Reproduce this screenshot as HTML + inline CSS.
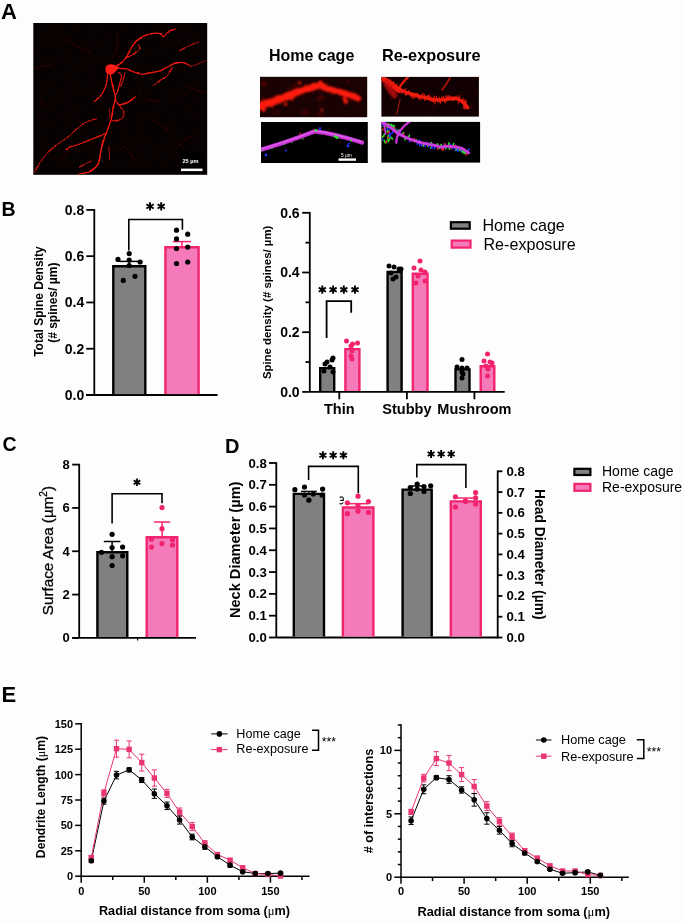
<!DOCTYPE html>
<html><head><meta charset="utf-8"><style>
html,body{margin:0;padding:0;background:#fdfdfd;}
body{width:685px;height:923px;overflow:hidden;}
svg{display:block;font-family:"Liberation Sans", sans-serif;will-change:transform;}
text{-webkit-font-smoothing:antialiased;}
</style></head><body>
<svg width="685" height="923" viewBox="0 0 685 923">
<rect width="685" height="923" fill="#fdfdfd"/>
<text x="1.00" y="18.60" font-size="22" font-weight="bold" text-anchor="start" fill="#000" >A</text>
<text x="1.50" y="215.90" font-size="19.5" font-weight="bold" text-anchor="start" fill="#000" >B</text>
<text x="2.50" y="451.30" font-size="19.5" font-weight="bold" text-anchor="start" fill="#000" >C</text>
<text x="225.00" y="452.50" font-size="20" font-weight="bold" text-anchor="start" fill="#000" >D</text>
<text x="1.60" y="701.90" font-size="22" font-weight="bold" text-anchor="start" fill="#000" >E</text>
<line x1="94.30" y1="209.10" x2="94.30" y2="395.00" stroke="#000" stroke-width="1.8" stroke-linecap="butt"/>
<line x1="86.00" y1="395.00" x2="217.60" y2="395.00" stroke="#000" stroke-width="1.8" stroke-linecap="butt"/>
<line x1="86.30" y1="395.00" x2="94.30" y2="395.00" stroke="#000" stroke-width="1.8" stroke-linecap="butt"/>
<text x="84.20" y="399.90" font-size="14" font-weight="bold" text-anchor="end" fill="#000" >0.0</text>
<line x1="86.30" y1="348.73" x2="94.30" y2="348.73" stroke="#000" stroke-width="1.8" stroke-linecap="butt"/>
<text x="84.20" y="353.62" font-size="14" font-weight="bold" text-anchor="end" fill="#000" >0.2</text>
<line x1="86.30" y1="302.45" x2="94.30" y2="302.45" stroke="#000" stroke-width="1.8" stroke-linecap="butt"/>
<text x="84.20" y="307.35" font-size="14" font-weight="bold" text-anchor="end" fill="#000" >0.4</text>
<line x1="86.30" y1="256.18" x2="94.30" y2="256.18" stroke="#000" stroke-width="1.8" stroke-linecap="butt"/>
<text x="84.20" y="261.07" font-size="14" font-weight="bold" text-anchor="end" fill="#000" >0.6</text>
<line x1="86.30" y1="209.90" x2="94.30" y2="209.90" stroke="#000" stroke-width="1.8" stroke-linecap="butt"/>
<text x="84.20" y="214.80" font-size="14" font-weight="bold" text-anchor="end" fill="#000" >0.8</text>
<text transform="translate(43.20,301.60) rotate(-90)" font-size="12" font-weight="bold" text-anchor="middle" fill="#000" >Total Spine Density</text>
<text transform="translate(56.60,302.70) rotate(-90)" font-size="12" font-weight="bold" text-anchor="middle" fill="#000" >(# spines/ µm)</text>
<rect x="113.30" y="266.30" width="32.00" height="127.80" fill="#808080"/>
<path d="M113.30,394.10 V266.30 H145.30 V394.10" fill="none" stroke="#000" stroke-width="2.4"/>
<rect x="165.40" y="247.30" width="33.20" height="146.80" fill="#f57aba"/>
<path d="M165.40,394.10 V247.30 H198.60 V394.10" fill="none" stroke="#f2246f" stroke-width="2.4"/>
<line x1="129.30" y1="266.00" x2="129.30" y2="261.40" stroke="#000" stroke-width="1.5" stroke-linecap="butt"/>
<line x1="119.60" y1="261.40" x2="139.00" y2="261.40" stroke="#000" stroke-width="1.5" stroke-linecap="butt"/>
<line x1="181.90" y1="247.00" x2="181.90" y2="241.60" stroke="#f2246f" stroke-width="1.5" stroke-linecap="butt"/>
<line x1="172.90" y1="241.60" x2="190.90" y2="241.60" stroke="#f2246f" stroke-width="1.5" stroke-linecap="butt"/>
<circle cx="118.00" cy="259.40" r="2.6" fill="#000"/>
<circle cx="129.20" cy="253.70" r="2.6" fill="#000"/>
<circle cx="129.20" cy="260.00" r="2.6" fill="#000"/>
<circle cx="140.10" cy="262.00" r="2.6" fill="#000"/>
<circle cx="129.20" cy="265.50" r="2.6" fill="#000"/>
<circle cx="123.30" cy="280.40" r="2.6" fill="#000"/>
<circle cx="135.00" cy="276.30" r="2.6" fill="#000"/>
<circle cx="176.50" cy="230.20" r="2.6" fill="#000"/>
<circle cx="187.70" cy="234.20" r="2.6" fill="#000"/>
<circle cx="176.50" cy="238.90" r="2.6" fill="#000"/>
<circle cx="176.50" cy="248.50" r="2.6" fill="#000"/>
<circle cx="187.70" cy="247.10" r="2.6" fill="#000"/>
<circle cx="176.50" cy="263.50" r="2.6" fill="#000"/>
<circle cx="187.70" cy="262.00" r="2.6" fill="#000"/>
<polyline points="128.80,250.50 128.80,219.50 182.40,219.50 182.40,229.70" fill="none" stroke="#000" stroke-width="1.6" stroke-linejoin="miter"/>
<path d="M150.00,202.20 L150.00,210.60 M146.36,204.30 L153.64,208.50 M146.36,208.50 L153.64,204.30" stroke="#000" stroke-width="1.9" fill="none"/>
<path d="M161.20,202.20 L161.20,210.60 M157.56,204.30 L164.84,208.50 M157.56,208.50 L164.84,204.30" stroke="#000" stroke-width="1.9" fill="none"/>
<line x1="309.80" y1="212.00" x2="309.80" y2="391.90" stroke="#000" stroke-width="1.8" stroke-linecap="butt"/>
<line x1="309.80" y1="391.90" x2="504.70" y2="391.90" stroke="#000" stroke-width="1.8" stroke-linecap="butt"/>
<line x1="302.20" y1="391.90" x2="309.80" y2="391.90" stroke="#000" stroke-width="1.8" stroke-linecap="butt"/>
<text x="299.60" y="396.70" font-size="14" font-weight="bold" text-anchor="end" fill="#000" >0.0</text>
<line x1="305.50" y1="362.05" x2="309.80" y2="362.05" stroke="#000" stroke-width="1.8" stroke-linecap="butt"/>
<line x1="302.20" y1="332.20" x2="309.80" y2="332.20" stroke="#000" stroke-width="1.8" stroke-linecap="butt"/>
<text x="299.60" y="337.00" font-size="14" font-weight="bold" text-anchor="end" fill="#000" >0.2</text>
<line x1="305.50" y1="302.35" x2="309.80" y2="302.35" stroke="#000" stroke-width="1.8" stroke-linecap="butt"/>
<line x1="302.20" y1="272.50" x2="309.80" y2="272.50" stroke="#000" stroke-width="1.8" stroke-linecap="butt"/>
<text x="299.60" y="277.30" font-size="14" font-weight="bold" text-anchor="end" fill="#000" >0.4</text>
<line x1="305.50" y1="242.65" x2="309.80" y2="242.65" stroke="#000" stroke-width="1.8" stroke-linecap="butt"/>
<line x1="302.20" y1="212.80" x2="309.80" y2="212.80" stroke="#000" stroke-width="1.8" stroke-linecap="butt"/>
<text x="299.60" y="217.60" font-size="14" font-weight="bold" text-anchor="end" fill="#000" >0.6</text>
<text transform="translate(271.00,302.40) rotate(-90)" font-size="11.4" font-weight="bold" text-anchor="middle" fill="#000" >Spine density (# spines/ µm)</text>
<line x1="339.30" y1="391.90" x2="339.30" y2="399.30" stroke="#000" stroke-width="1.8" stroke-linecap="butt"/>
<text x="339.30" y="413.60" font-size="14.5" font-weight="bold" text-anchor="middle" fill="#000" >Thin</text>
<line x1="406.90" y1="391.90" x2="406.90" y2="399.30" stroke="#000" stroke-width="1.8" stroke-linecap="butt"/>
<text x="406.90" y="413.60" font-size="14.5" font-weight="bold" text-anchor="middle" fill="#000" >Stubby</text>
<line x1="474.40" y1="391.90" x2="474.40" y2="399.30" stroke="#000" stroke-width="1.8" stroke-linecap="butt"/>
<text x="474.40" y="413.60" font-size="14.5" font-weight="bold" text-anchor="middle" fill="#000" >Mushroom</text>
<rect x="320.20" y="368.10" width="14.00" height="22.90" fill="#808080"/>
<path d="M320.20,391.00 V368.10 H334.20 V391.00" fill="none" stroke="#000" stroke-width="2.4"/>
<rect x="345.40" y="349.10" width="14.00" height="41.90" fill="#f57aba"/>
<path d="M345.40,391.00 V349.10 H359.40 V391.00" fill="none" stroke="#f2246f" stroke-width="2.4"/>
<rect x="387.60" y="272.00" width="14.00" height="119.00" fill="#808080"/>
<path d="M387.60,391.00 V272.00 H401.60 V391.00" fill="none" stroke="#000" stroke-width="2.4"/>
<rect x="412.80" y="273.80" width="14.70" height="117.20" fill="#f57aba"/>
<path d="M412.80,391.00 V273.80 H427.50 V391.00" fill="none" stroke="#f2246f" stroke-width="2.4"/>
<rect x="455.50" y="369.40" width="14.00" height="21.60" fill="#808080"/>
<path d="M455.50,391.00 V369.40 H469.50 V391.00" fill="none" stroke="#000" stroke-width="2.4"/>
<rect x="480.70" y="366.20" width="13.60" height="24.80" fill="#f57aba"/>
<path d="M480.70,391.00 V366.20 H494.30 V391.00" fill="none" stroke="#f2246f" stroke-width="2.4"/>
<circle cx="327.00" cy="362.00" r="2.5" fill="#000"/>
<circle cx="332.00" cy="360.00" r="2.5" fill="#000"/>
<circle cx="333.00" cy="358.00" r="2.5" fill="#000"/>
<circle cx="325.00" cy="364.00" r="2.5" fill="#000"/>
<circle cx="330.00" cy="367.00" r="2.5" fill="#000"/>
<circle cx="324.00" cy="371.00" r="2.5" fill="#000"/>
<circle cx="333.00" cy="372.00" r="2.5" fill="#000"/>
<circle cx="346.50" cy="341.00" r="2.5" fill="#f2246f"/>
<circle cx="352.50" cy="344.00" r="2.5" fill="#f2246f"/>
<circle cx="357.50" cy="343.00" r="2.5" fill="#f2246f"/>
<circle cx="351.00" cy="346.00" r="2.5" fill="#f2246f"/>
<circle cx="352.00" cy="351.00" r="2.5" fill="#f2246f"/>
<circle cx="351.00" cy="356.00" r="2.5" fill="#f2246f"/>
<circle cx="352.00" cy="359.00" r="2.5" fill="#f2246f"/>
<circle cx="389.00" cy="266.00" r="2.5" fill="#000"/>
<circle cx="394.00" cy="267.00" r="2.5" fill="#000"/>
<circle cx="399.00" cy="269.00" r="2.5" fill="#000"/>
<circle cx="401.00" cy="269.00" r="2.5" fill="#000"/>
<circle cx="391.00" cy="273.00" r="2.5" fill="#000"/>
<circle cx="396.00" cy="277.00" r="2.5" fill="#000"/>
<circle cx="393.00" cy="279.00" r="2.5" fill="#000"/>
<circle cx="420.00" cy="261.00" r="2.5" fill="#f2246f"/>
<circle cx="414.00" cy="268.00" r="2.5" fill="#f2246f"/>
<circle cx="421.00" cy="270.00" r="2.5" fill="#f2246f"/>
<circle cx="425.00" cy="272.00" r="2.5" fill="#f2246f"/>
<circle cx="418.00" cy="276.00" r="2.5" fill="#f2246f"/>
<circle cx="416.00" cy="283.00" r="2.5" fill="#f2246f"/>
<circle cx="425.00" cy="281.00" r="2.5" fill="#f2246f"/>
<circle cx="462.00" cy="359.50" r="2.5" fill="#000"/>
<circle cx="457.00" cy="367.00" r="2.5" fill="#000"/>
<circle cx="462.00" cy="368.00" r="2.5" fill="#000"/>
<circle cx="467.00" cy="368.00" r="2.5" fill="#000"/>
<circle cx="462.00" cy="372.00" r="2.5" fill="#000"/>
<circle cx="463.00" cy="374.00" r="2.5" fill="#000"/>
<circle cx="462.00" cy="378.00" r="2.5" fill="#000"/>
<circle cx="487.50" cy="354.00" r="2.5" fill="#f2246f"/>
<circle cx="484.00" cy="361.00" r="2.5" fill="#f2246f"/>
<circle cx="490.00" cy="362.00" r="2.5" fill="#f2246f"/>
<circle cx="492.00" cy="363.00" r="2.5" fill="#f2246f"/>
<circle cx="486.00" cy="366.00" r="2.5" fill="#f2246f"/>
<circle cx="488.00" cy="369.00" r="2.5" fill="#f2246f"/>
<circle cx="487.50" cy="376.00" r="2.5" fill="#f2246f"/>
<polyline points="326.60,338.00 326.60,301.20 351.20,301.20 351.20,312.80" fill="none" stroke="#000" stroke-width="1.8" stroke-linejoin="miter"/>
<path d="M322.30,285.60 L322.30,293.80 M318.75,287.65 L325.85,291.75 M318.75,291.75 L325.85,287.65" stroke="#000" stroke-width="1.9" fill="none"/>
<path d="M333.10,285.60 L333.10,293.80 M329.55,287.65 L336.65,291.75 M329.55,291.75 L336.65,287.65" stroke="#000" stroke-width="1.9" fill="none"/>
<path d="M343.80,285.60 L343.80,293.80 M340.25,287.65 L347.35,291.75 M340.25,291.75 L347.35,287.65" stroke="#000" stroke-width="1.9" fill="none"/>
<path d="M355.00,285.60 L355.00,293.80 M351.45,287.65 L358.55,291.75 M351.45,291.75 L358.55,287.65" stroke="#000" stroke-width="1.9" fill="none"/>
<rect x="450.9" y="222.2" width="18.8" height="6.5" fill="#808080" stroke="#000" stroke-width="2.2"/>
<rect x="451.7" y="240.6" width="18.8" height="7" fill="#f57aba" stroke="#f2246f" stroke-width="2.2"/>
<text x="482.50" y="231.00" font-size="16.1" font-weight="normal" text-anchor="start" fill="#000" >Home cage</text>
<text x="483.50" y="249.80" font-size="16.1" font-weight="normal" text-anchor="start" fill="#000" >Re-exposure</text>
<line x1="79.20" y1="463.80" x2="79.20" y2="637.90" stroke="#000" stroke-width="1.8" stroke-linecap="butt"/>
<line x1="72.20" y1="637.90" x2="196.00" y2="637.90" stroke="#000" stroke-width="1.8" stroke-linecap="butt"/>
<line x1="72.20" y1="637.90" x2="79.20" y2="637.90" stroke="#000" stroke-width="1.8" stroke-linecap="butt"/>
<text x="69.80" y="642.40" font-size="13" font-weight="bold" text-anchor="end" fill="#000" >0</text>
<line x1="72.20" y1="594.58" x2="79.20" y2="594.58" stroke="#000" stroke-width="1.8" stroke-linecap="butt"/>
<text x="69.80" y="599.08" font-size="13" font-weight="bold" text-anchor="end" fill="#000" >2</text>
<line x1="72.20" y1="551.25" x2="79.20" y2="551.25" stroke="#000" stroke-width="1.8" stroke-linecap="butt"/>
<text x="69.80" y="555.75" font-size="13" font-weight="bold" text-anchor="end" fill="#000" >4</text>
<line x1="72.20" y1="507.93" x2="79.20" y2="507.93" stroke="#000" stroke-width="1.8" stroke-linecap="butt"/>
<text x="69.80" y="512.42" font-size="13" font-weight="bold" text-anchor="end" fill="#000" >6</text>
<line x1="72.20" y1="464.60" x2="79.20" y2="464.60" stroke="#000" stroke-width="1.8" stroke-linecap="butt"/>
<text x="69.80" y="469.10" font-size="13" font-weight="bold" text-anchor="end" fill="#000" >8</text>
<line x1="137.60" y1="637.90" x2="137.60" y2="640.40" stroke="#000" stroke-width="1.2" stroke-linecap="butt"/>
<text transform="translate(53.2,550.6) rotate(-90)" font-size="15.2" text-anchor="middle" fill="#000" stroke="#000" stroke-width="0.3">Surface Area (µm<tspan font-size="10" dy="-6">2</tspan><tspan dy="6">)</tspan></text>
<rect x="97.40" y="552.30" width="29.90" height="84.70" fill="#808080"/>
<path d="M97.40,637.00 V552.30 H127.30 V637.00" fill="none" stroke="#000" stroke-width="2.4"/>
<rect x="146.70" y="537.20" width="30.60" height="99.80" fill="#f57aba"/>
<path d="M146.70,637.00 V537.20 H177.30 V637.00" fill="none" stroke="#f2246f" stroke-width="2.4"/>
<line x1="112.10" y1="552.00" x2="112.10" y2="541.50" stroke="#000" stroke-width="1.5" stroke-linecap="butt"/>
<line x1="103.80" y1="541.50" x2="120.40" y2="541.50" stroke="#000" stroke-width="1.5" stroke-linecap="butt"/>
<line x1="162.10" y1="537.00" x2="162.10" y2="522.00" stroke="#f2246f" stroke-width="1.5" stroke-linecap="butt"/>
<line x1="154.00" y1="522.00" x2="170.20" y2="522.00" stroke="#f2246f" stroke-width="1.5" stroke-linecap="butt"/>
<circle cx="112.10" cy="534.30" r="2.6" fill="#000"/>
<circle cx="101.50" cy="552.30" r="2.6" fill="#000"/>
<circle cx="112.10" cy="547.60" r="2.6" fill="#000"/>
<circle cx="122.60" cy="547.10" r="2.6" fill="#000"/>
<circle cx="112.10" cy="556.70" r="2.6" fill="#000"/>
<circle cx="122.60" cy="555.80" r="2.6" fill="#000"/>
<circle cx="112.10" cy="565.50" r="2.6" fill="#000"/>
<circle cx="162.00" cy="507.70" r="2.6" fill="#f2246f"/>
<circle cx="162.00" cy="528.70" r="2.6" fill="#f2246f"/>
<circle cx="151.50" cy="539.20" r="2.6" fill="#f2246f"/>
<circle cx="172.50" cy="539.70" r="2.6" fill="#f2246f"/>
<circle cx="162.00" cy="543.60" r="2.6" fill="#f2246f"/>
<circle cx="151.50" cy="547.10" r="2.6" fill="#f2246f"/>
<circle cx="172.50" cy="545.00" r="2.6" fill="#f2246f"/>
<polyline points="112.10,523.40 112.10,493.70 162.00,493.70 162.00,503.30" fill="none" stroke="#000" stroke-width="1.6" stroke-linejoin="miter"/>
<path d="M137.00,478.50 L137.00,486.10 M133.71,480.40 L140.29,484.20 M133.71,484.20 L140.29,480.40" stroke="#000" stroke-width="1.8" fill="none"/>
<line x1="276.30" y1="462.20" x2="276.30" y2="637.50" stroke="#000" stroke-width="1.8" stroke-linecap="butt"/>
<line x1="276.30" y1="637.50" x2="497.70" y2="637.50" stroke="#000" stroke-width="1.8" stroke-linecap="butt"/>
<line x1="269.00" y1="637.50" x2="276.30" y2="637.50" stroke="#000" stroke-width="1.8" stroke-linecap="butt"/>
<text x="266.80" y="642.00" font-size="13.2" font-weight="bold" text-anchor="end" fill="#000" >0.0</text>
<line x1="269.00" y1="615.69" x2="276.30" y2="615.69" stroke="#000" stroke-width="1.8" stroke-linecap="butt"/>
<text x="266.80" y="620.19" font-size="13.2" font-weight="bold" text-anchor="end" fill="#000" >0.1</text>
<line x1="269.00" y1="593.88" x2="276.30" y2="593.88" stroke="#000" stroke-width="1.8" stroke-linecap="butt"/>
<text x="266.80" y="598.38" font-size="13.2" font-weight="bold" text-anchor="end" fill="#000" >0.2</text>
<line x1="269.00" y1="572.06" x2="276.30" y2="572.06" stroke="#000" stroke-width="1.8" stroke-linecap="butt"/>
<text x="266.80" y="576.56" font-size="13.2" font-weight="bold" text-anchor="end" fill="#000" >0.3</text>
<line x1="269.00" y1="550.25" x2="276.30" y2="550.25" stroke="#000" stroke-width="1.8" stroke-linecap="butt"/>
<text x="266.80" y="554.75" font-size="13.2" font-weight="bold" text-anchor="end" fill="#000" >0.4</text>
<line x1="269.00" y1="528.44" x2="276.30" y2="528.44" stroke="#000" stroke-width="1.8" stroke-linecap="butt"/>
<text x="266.80" y="532.94" font-size="13.2" font-weight="bold" text-anchor="end" fill="#000" >0.5</text>
<line x1="269.00" y1="506.62" x2="276.30" y2="506.62" stroke="#000" stroke-width="1.8" stroke-linecap="butt"/>
<text x="266.80" y="511.12" font-size="13.2" font-weight="bold" text-anchor="end" fill="#000" >0.6</text>
<line x1="269.00" y1="484.81" x2="276.30" y2="484.81" stroke="#000" stroke-width="1.8" stroke-linecap="butt"/>
<text x="266.80" y="489.31" font-size="13.2" font-weight="bold" text-anchor="end" fill="#000" >0.7</text>
<line x1="269.00" y1="463.00" x2="276.30" y2="463.00" stroke="#000" stroke-width="1.8" stroke-linecap="butt"/>
<text x="266.80" y="467.50" font-size="13.2" font-weight="bold" text-anchor="end" fill="#000" >0.8</text>
<line x1="497.70" y1="470.50" x2="497.70" y2="638.40" stroke="#000" stroke-width="1.8" stroke-linecap="butt"/>
<line x1="497.70" y1="637.50" x2="502.40" y2="637.50" stroke="#000" stroke-width="1.8" stroke-linecap="butt"/>
<text x="506.40" y="642.00" font-size="13.2" font-weight="bold" text-anchor="start" fill="#000" >0.0</text>
<line x1="497.70" y1="616.73" x2="502.40" y2="616.73" stroke="#000" stroke-width="1.8" stroke-linecap="butt"/>
<text x="506.40" y="621.23" font-size="13.2" font-weight="bold" text-anchor="start" fill="#000" >0.1</text>
<line x1="497.70" y1="595.95" x2="502.40" y2="595.95" stroke="#000" stroke-width="1.8" stroke-linecap="butt"/>
<text x="506.40" y="600.45" font-size="13.2" font-weight="bold" text-anchor="start" fill="#000" >0.2</text>
<line x1="497.70" y1="575.17" x2="502.40" y2="575.17" stroke="#000" stroke-width="1.8" stroke-linecap="butt"/>
<text x="506.40" y="579.67" font-size="13.2" font-weight="bold" text-anchor="start" fill="#000" >0.3</text>
<line x1="497.70" y1="554.40" x2="502.40" y2="554.40" stroke="#000" stroke-width="1.8" stroke-linecap="butt"/>
<text x="506.40" y="558.90" font-size="13.2" font-weight="bold" text-anchor="start" fill="#000" >0.4</text>
<line x1="497.70" y1="533.62" x2="502.40" y2="533.62" stroke="#000" stroke-width="1.8" stroke-linecap="butt"/>
<text x="506.40" y="538.12" font-size="13.2" font-weight="bold" text-anchor="start" fill="#000" >0.5</text>
<line x1="497.70" y1="512.85" x2="502.40" y2="512.85" stroke="#000" stroke-width="1.8" stroke-linecap="butt"/>
<text x="506.40" y="517.35" font-size="13.2" font-weight="bold" text-anchor="start" fill="#000" >0.6</text>
<line x1="497.70" y1="492.08" x2="502.40" y2="492.08" stroke="#000" stroke-width="1.8" stroke-linecap="butt"/>
<text x="506.40" y="496.58" font-size="13.2" font-weight="bold" text-anchor="start" fill="#000" >0.7</text>
<line x1="497.70" y1="471.30" x2="502.40" y2="471.30" stroke="#000" stroke-width="1.8" stroke-linecap="butt"/>
<text x="506.40" y="475.80" font-size="13.2" font-weight="bold" text-anchor="start" fill="#000" >0.8</text>
<text transform="translate(240.00,549.80) rotate(-90)" font-size="14.6" font-weight="bold" text-anchor="middle" fill="#000" >Neck Diameter (µm)</text>
<text transform="translate(535.30,554.30) rotate(90)" font-size="13.9" font-weight="bold" text-anchor="middle" fill="#000" >Head Diameter (µm)</text>
<rect x="293.80" y="493.90" width="30.20" height="142.70" fill="#808080"/>
<path d="M293.80,636.60 V493.90 H324.00 V636.60" fill="none" stroke="#000" stroke-width="2.4"/>
<rect x="342.90" y="507.50" width="30.50" height="129.10" fill="#f57aba"/>
<path d="M342.90,636.60 V507.50 H373.40 V636.60" fill="none" stroke="#f2246f" stroke-width="2.4"/>
<rect x="402.60" y="489.60" width="29.10" height="147.00" fill="#808080"/>
<path d="M402.60,636.60 V489.60 H431.70 V636.60" fill="none" stroke="#000" stroke-width="2.4"/>
<rect x="450.80" y="501.40" width="30.00" height="135.20" fill="#f57aba"/>
<path d="M450.80,636.60 V501.40 H480.80 V636.60" fill="none" stroke="#f2246f" stroke-width="2.4"/>
<line x1="308.90" y1="494.00" x2="308.90" y2="491.40" stroke="#000" stroke-width="1.5" stroke-linecap="butt"/>
<line x1="301.00" y1="491.40" x2="316.80" y2="491.40" stroke="#000" stroke-width="1.5" stroke-linecap="butt"/>
<line x1="358.00" y1="507.00" x2="358.00" y2="503.70" stroke="#f2246f" stroke-width="1.5" stroke-linecap="butt"/>
<line x1="347.50" y1="503.70" x2="368.50" y2="503.70" stroke="#f2246f" stroke-width="1.5" stroke-linecap="butt"/>
<line x1="417.10" y1="490.00" x2="417.10" y2="486.00" stroke="#000" stroke-width="1.5" stroke-linecap="butt"/>
<line x1="411.10" y1="486.00" x2="423.10" y2="486.00" stroke="#000" stroke-width="1.5" stroke-linecap="butt"/>
<line x1="465.80" y1="502.00" x2="465.80" y2="498.00" stroke="#f2246f" stroke-width="1.5" stroke-linecap="butt"/>
<line x1="456.80" y1="498.00" x2="474.80" y2="498.00" stroke="#f2246f" stroke-width="1.5" stroke-linecap="butt"/>
<circle cx="294.90" cy="489.70" r="2.6" fill="#000"/>
<circle cx="304.50" cy="487.00" r="2.6" fill="#000"/>
<circle cx="322.60" cy="489.10" r="2.6" fill="#000"/>
<circle cx="304.50" cy="495.00" r="2.6" fill="#000"/>
<circle cx="313.30" cy="494.00" r="2.6" fill="#000"/>
<circle cx="322.00" cy="495.00" r="2.6" fill="#000"/>
<circle cx="308.90" cy="500.20" r="2.6" fill="#000"/>
<circle cx="358.00" cy="496.20" r="2.6" fill="#f2246f"/>
<circle cx="347.40" cy="502.80" r="2.6" fill="#f2246f"/>
<circle cx="368.50" cy="501.60" r="2.6" fill="#f2246f"/>
<circle cx="358.00" cy="505.40" r="2.6" fill="#f2246f"/>
<circle cx="358.00" cy="511.20" r="2.6" fill="#f2246f"/>
<circle cx="347.40" cy="513.70" r="2.6" fill="#f2246f"/>
<circle cx="368.50" cy="512.40" r="2.6" fill="#f2246f"/>
<circle cx="410.30" cy="487.50" r="2.6" fill="#000"/>
<circle cx="417.20" cy="484.00" r="2.6" fill="#000"/>
<circle cx="424.00" cy="486.50" r="2.6" fill="#000"/>
<circle cx="430.70" cy="485.80" r="2.6" fill="#000"/>
<circle cx="417.20" cy="489.00" r="2.6" fill="#000"/>
<circle cx="424.00" cy="491.50" r="2.6" fill="#000"/>
<circle cx="410.30" cy="493.50" r="2.6" fill="#000"/>
<circle cx="455.40" cy="496.80" r="2.6" fill="#f2246f"/>
<circle cx="475.60" cy="492.60" r="2.6" fill="#f2246f"/>
<circle cx="475.60" cy="497.80" r="2.6" fill="#f2246f"/>
<circle cx="465.50" cy="501.20" r="2.6" fill="#f2246f"/>
<circle cx="475.60" cy="504.00" r="2.6" fill="#f2246f"/>
<circle cx="455.40" cy="507.00" r="2.6" fill="#f2246f"/>
<circle cx="465.50" cy="501.00" r="2.6" fill="#f2246f"/>
<polyline points="308.60,480.00 308.60,466.40 358.30,466.40 358.30,493.20" fill="none" stroke="#000" stroke-width="1.6" stroke-linejoin="miter"/>
<polyline points="416.80,477.40 416.80,464.60 465.90,464.60 465.90,487.90" fill="none" stroke="#000" stroke-width="1.6" stroke-linejoin="miter"/>
<path d="M322.90,451.30 L322.90,459.30 M319.44,453.30 L326.36,457.30 M319.44,457.30 L326.36,453.30" stroke="#000" stroke-width="1.9" fill="none"/>
<path d="M333.15,451.30 L333.15,459.30 M329.69,453.30 L336.61,457.30 M329.69,457.30 L336.61,453.30" stroke="#000" stroke-width="1.9" fill="none"/>
<path d="M343.40,451.30 L343.40,459.30 M339.94,453.30 L346.86,457.30 M339.94,457.30 L346.86,453.30" stroke="#000" stroke-width="1.9" fill="none"/>
<path d="M431.10,450.00 L431.10,458.00 M427.64,452.00 L434.56,456.00 M427.64,456.00 L434.56,452.00" stroke="#000" stroke-width="1.9" fill="none"/>
<path d="M441.15,450.00 L441.15,458.00 M437.69,452.00 L444.61,456.00 M437.69,456.00 L444.61,452.00" stroke="#000" stroke-width="1.9" fill="none"/>
<path d="M451.20,450.00 L451.20,458.00 M447.74,452.00 L454.66,456.00 M447.74,456.00 L454.66,452.00" stroke="#000" stroke-width="1.9" fill="none"/>
<path d="M339.6,497.6 C341.2,496.4 343.6,496.8 343.4,499.3 L343.3,500.3 L340.2,500.3 M343.2,502.4 C342.6,503.9 340.9,504.3 339.5,503.6" fill="none" stroke="#111" stroke-width="1.15"/>
<rect x="574.4" y="468.8" width="16" height="6.2" fill="#808080" stroke="#000" stroke-width="2.2"/>
<rect x="574.4" y="483.9" width="16" height="6.9" fill="#f57aba" stroke="#f2246f" stroke-width="2.2"/>
<text x="602.00" y="476.40" font-size="14.0" font-weight="normal" text-anchor="start" fill="#000" >Home cage</text>
<text x="602.00" y="492.00" font-size="14.0" font-weight="normal" text-anchor="start" fill="#000" >Re-exposure</text>
<line x1="81.20" y1="723.10" x2="81.20" y2="876.20" stroke="#000" stroke-width="1.5" stroke-linecap="butt"/>
<line x1="80.50" y1="876.20" x2="309.50" y2="876.20" stroke="#000" stroke-width="1.5" stroke-linecap="butt"/>
<line x1="75.20" y1="876.20" x2="81.20" y2="876.20" stroke="#000" stroke-width="1.5" stroke-linecap="butt"/>
<text x="73.00" y="880.20" font-size="11" font-weight="bold" text-anchor="end" fill="#000" >0</text>
<line x1="75.20" y1="850.80" x2="81.20" y2="850.80" stroke="#000" stroke-width="1.5" stroke-linecap="butt"/>
<text x="73.00" y="854.80" font-size="11" font-weight="bold" text-anchor="end" fill="#000" >25</text>
<line x1="75.20" y1="825.40" x2="81.20" y2="825.40" stroke="#000" stroke-width="1.5" stroke-linecap="butt"/>
<text x="73.00" y="829.40" font-size="11" font-weight="bold" text-anchor="end" fill="#000" >50</text>
<line x1="75.20" y1="800.00" x2="81.20" y2="800.00" stroke="#000" stroke-width="1.5" stroke-linecap="butt"/>
<text x="73.00" y="804.00" font-size="11" font-weight="bold" text-anchor="end" fill="#000" >75</text>
<line x1="75.20" y1="774.60" x2="81.20" y2="774.60" stroke="#000" stroke-width="1.5" stroke-linecap="butt"/>
<text x="73.00" y="778.60" font-size="11" font-weight="bold" text-anchor="end" fill="#000" >100</text>
<line x1="75.20" y1="749.20" x2="81.20" y2="749.20" stroke="#000" stroke-width="1.5" stroke-linecap="butt"/>
<text x="73.00" y="753.20" font-size="11" font-weight="bold" text-anchor="end" fill="#000" >125</text>
<line x1="75.20" y1="723.80" x2="81.20" y2="723.80" stroke="#000" stroke-width="1.5" stroke-linecap="butt"/>
<text x="73.00" y="727.80" font-size="11" font-weight="bold" text-anchor="end" fill="#000" >150</text>
<line x1="81.20" y1="876.20" x2="81.20" y2="882.70" stroke="#000" stroke-width="1.5" stroke-linecap="butt"/>
<text x="81.20" y="895.30" font-size="11" font-weight="bold" text-anchor="middle" fill="#000" >0</text>
<line x1="144.28" y1="876.20" x2="144.28" y2="882.70" stroke="#000" stroke-width="1.5" stroke-linecap="butt"/>
<text x="144.28" y="895.30" font-size="11" font-weight="bold" text-anchor="middle" fill="#000" >50</text>
<line x1="207.35" y1="876.20" x2="207.35" y2="882.70" stroke="#000" stroke-width="1.5" stroke-linecap="butt"/>
<text x="207.35" y="895.30" font-size="11" font-weight="bold" text-anchor="middle" fill="#000" >100</text>
<line x1="270.43" y1="876.20" x2="270.43" y2="882.70" stroke="#000" stroke-width="1.5" stroke-linecap="butt"/>
<text x="270.43" y="895.30" font-size="11" font-weight="bold" text-anchor="middle" fill="#000" >150</text>
<line x1="112.74" y1="876.20" x2="112.74" y2="880.00" stroke="#000" stroke-width="1.5" stroke-linecap="butt"/>
<line x1="175.81" y1="876.20" x2="175.81" y2="880.00" stroke="#000" stroke-width="1.5" stroke-linecap="butt"/>
<line x1="238.89" y1="876.20" x2="238.89" y2="880.00" stroke="#000" stroke-width="1.5" stroke-linecap="butt"/>
<line x1="301.96" y1="876.20" x2="301.96" y2="880.00" stroke="#000" stroke-width="1.5" stroke-linecap="butt"/>
<line x1="91.29" y1="855.58" x2="91.29" y2="859.64" stroke="#ea3574" stroke-width="1.0" stroke-linecap="butt"/>
<line x1="88.69" y1="855.58" x2="93.89" y2="855.58" stroke="#ea3574" stroke-width="1.0" stroke-linecap="butt"/>
<line x1="88.69" y1="859.64" x2="93.89" y2="859.64" stroke="#ea3574" stroke-width="1.0" stroke-linecap="butt"/>
<line x1="103.91" y1="789.84" x2="103.91" y2="795.94" stroke="#ea3574" stroke-width="1.0" stroke-linecap="butt"/>
<line x1="101.31" y1="789.84" x2="106.51" y2="789.84" stroke="#ea3574" stroke-width="1.0" stroke-linecap="butt"/>
<line x1="101.31" y1="795.94" x2="106.51" y2="795.94" stroke="#ea3574" stroke-width="1.0" stroke-linecap="butt"/>
<line x1="116.52" y1="740.16" x2="116.52" y2="757.23" stroke="#ea3574" stroke-width="1.0" stroke-linecap="butt"/>
<line x1="113.92" y1="740.16" x2="119.12" y2="740.16" stroke="#ea3574" stroke-width="1.0" stroke-linecap="butt"/>
<line x1="113.92" y1="757.23" x2="119.12" y2="757.23" stroke="#ea3574" stroke-width="1.0" stroke-linecap="butt"/>
<line x1="129.14" y1="740.97" x2="129.14" y2="757.84" stroke="#ea3574" stroke-width="1.0" stroke-linecap="butt"/>
<line x1="126.54" y1="740.97" x2="131.74" y2="740.97" stroke="#ea3574" stroke-width="1.0" stroke-linecap="butt"/>
<line x1="126.54" y1="757.84" x2="131.74" y2="757.84" stroke="#ea3574" stroke-width="1.0" stroke-linecap="butt"/>
<line x1="141.75" y1="754.18" x2="141.75" y2="771.04" stroke="#ea3574" stroke-width="1.0" stroke-linecap="butt"/>
<line x1="139.15" y1="754.18" x2="144.35" y2="754.18" stroke="#ea3574" stroke-width="1.0" stroke-linecap="butt"/>
<line x1="139.15" y1="771.04" x2="144.35" y2="771.04" stroke="#ea3574" stroke-width="1.0" stroke-linecap="butt"/>
<line x1="154.37" y1="769.93" x2="154.37" y2="786.18" stroke="#ea3574" stroke-width="1.0" stroke-linecap="butt"/>
<line x1="151.77" y1="769.93" x2="156.97" y2="769.93" stroke="#ea3574" stroke-width="1.0" stroke-linecap="butt"/>
<line x1="151.77" y1="786.18" x2="156.97" y2="786.18" stroke="#ea3574" stroke-width="1.0" stroke-linecap="butt"/>
<line x1="166.98" y1="789.33" x2="166.98" y2="797.46" stroke="#ea3574" stroke-width="1.0" stroke-linecap="butt"/>
<line x1="164.38" y1="789.33" x2="169.58" y2="789.33" stroke="#ea3574" stroke-width="1.0" stroke-linecap="butt"/>
<line x1="164.38" y1="797.46" x2="169.58" y2="797.46" stroke="#ea3574" stroke-width="1.0" stroke-linecap="butt"/>
<line x1="179.60" y1="808.03" x2="179.60" y2="816.15" stroke="#ea3574" stroke-width="1.0" stroke-linecap="butt"/>
<line x1="177.00" y1="808.03" x2="182.20" y2="808.03" stroke="#ea3574" stroke-width="1.0" stroke-linecap="butt"/>
<line x1="177.00" y1="816.15" x2="182.20" y2="816.15" stroke="#ea3574" stroke-width="1.0" stroke-linecap="butt"/>
<line x1="192.21" y1="822.45" x2="192.21" y2="830.58" stroke="#ea3574" stroke-width="1.0" stroke-linecap="butt"/>
<line x1="189.61" y1="822.45" x2="194.81" y2="822.45" stroke="#ea3574" stroke-width="1.0" stroke-linecap="butt"/>
<line x1="189.61" y1="830.58" x2="194.81" y2="830.58" stroke="#ea3574" stroke-width="1.0" stroke-linecap="butt"/>
<line x1="204.83" y1="840.74" x2="204.83" y2="845.82" stroke="#ea3574" stroke-width="1.0" stroke-linecap="butt"/>
<line x1="202.23" y1="840.74" x2="207.43" y2="840.74" stroke="#ea3574" stroke-width="1.0" stroke-linecap="butt"/>
<line x1="202.23" y1="845.82" x2="207.43" y2="845.82" stroke="#ea3574" stroke-width="1.0" stroke-linecap="butt"/>
<line x1="217.44" y1="852.53" x2="217.44" y2="856.59" stroke="#ea3574" stroke-width="1.0" stroke-linecap="butt"/>
<line x1="214.84" y1="852.53" x2="220.04" y2="852.53" stroke="#ea3574" stroke-width="1.0" stroke-linecap="butt"/>
<line x1="214.84" y1="856.59" x2="220.04" y2="856.59" stroke="#ea3574" stroke-width="1.0" stroke-linecap="butt"/>
<line x1="230.06" y1="858.62" x2="230.06" y2="861.67" stroke="#ea3574" stroke-width="1.0" stroke-linecap="butt"/>
<line x1="227.46" y1="858.62" x2="232.66" y2="858.62" stroke="#ea3574" stroke-width="1.0" stroke-linecap="butt"/>
<line x1="227.46" y1="861.67" x2="232.66" y2="861.67" stroke="#ea3574" stroke-width="1.0" stroke-linecap="butt"/>
<line x1="242.67" y1="866.24" x2="242.67" y2="869.29" stroke="#ea3574" stroke-width="1.0" stroke-linecap="butt"/>
<line x1="240.07" y1="866.24" x2="245.27" y2="866.24" stroke="#ea3574" stroke-width="1.0" stroke-linecap="butt"/>
<line x1="240.07" y1="869.29" x2="245.27" y2="869.29" stroke="#ea3574" stroke-width="1.0" stroke-linecap="butt"/>
<line x1="255.29" y1="873.05" x2="255.29" y2="874.07" stroke="#ea3574" stroke-width="1.0" stroke-linecap="butt"/>
<line x1="252.69" y1="873.05" x2="257.89" y2="873.05" stroke="#ea3574" stroke-width="1.0" stroke-linecap="butt"/>
<line x1="252.69" y1="874.07" x2="257.89" y2="874.07" stroke="#ea3574" stroke-width="1.0" stroke-linecap="butt"/>
<line x1="267.90" y1="873.96" x2="267.90" y2="874.98" stroke="#ea3574" stroke-width="1.0" stroke-linecap="butt"/>
<line x1="265.30" y1="873.96" x2="270.50" y2="873.96" stroke="#ea3574" stroke-width="1.0" stroke-linecap="butt"/>
<line x1="265.30" y1="874.98" x2="270.50" y2="874.98" stroke="#ea3574" stroke-width="1.0" stroke-linecap="butt"/>
<line x1="280.52" y1="875.49" x2="280.52" y2="876.50" stroke="#ea3574" stroke-width="1.0" stroke-linecap="butt"/>
<line x1="277.92" y1="875.49" x2="283.12" y2="875.49" stroke="#ea3574" stroke-width="1.0" stroke-linecap="butt"/>
<line x1="277.92" y1="876.50" x2="283.12" y2="876.50" stroke="#ea3574" stroke-width="1.0" stroke-linecap="butt"/>
<line x1="91.29" y1="859.23" x2="91.29" y2="862.28" stroke="#000" stroke-width="1.0" stroke-linecap="butt"/>
<line x1="88.69" y1="859.23" x2="93.89" y2="859.23" stroke="#000" stroke-width="1.0" stroke-linecap="butt"/>
<line x1="88.69" y1="862.28" x2="93.89" y2="862.28" stroke="#000" stroke-width="1.0" stroke-linecap="butt"/>
<line x1="103.91" y1="798.07" x2="103.91" y2="804.17" stroke="#000" stroke-width="1.0" stroke-linecap="butt"/>
<line x1="101.31" y1="798.07" x2="106.51" y2="798.07" stroke="#000" stroke-width="1.0" stroke-linecap="butt"/>
<line x1="101.31" y1="804.17" x2="106.51" y2="804.17" stroke="#000" stroke-width="1.0" stroke-linecap="butt"/>
<line x1="116.52" y1="771.35" x2="116.52" y2="778.87" stroke="#000" stroke-width="1.0" stroke-linecap="butt"/>
<line x1="113.92" y1="771.35" x2="119.12" y2="771.35" stroke="#000" stroke-width="1.0" stroke-linecap="butt"/>
<line x1="113.92" y1="778.87" x2="119.12" y2="778.87" stroke="#000" stroke-width="1.0" stroke-linecap="butt"/>
<line x1="129.14" y1="767.79" x2="129.14" y2="771.86" stroke="#000" stroke-width="1.0" stroke-linecap="butt"/>
<line x1="126.54" y1="767.79" x2="131.74" y2="767.79" stroke="#000" stroke-width="1.0" stroke-linecap="butt"/>
<line x1="126.54" y1="771.86" x2="131.74" y2="771.86" stroke="#000" stroke-width="1.0" stroke-linecap="butt"/>
<line x1="141.75" y1="777.44" x2="141.75" y2="782.52" stroke="#000" stroke-width="1.0" stroke-linecap="butt"/>
<line x1="139.15" y1="777.44" x2="144.35" y2="777.44" stroke="#000" stroke-width="1.0" stroke-linecap="butt"/>
<line x1="139.15" y1="782.52" x2="144.35" y2="782.52" stroke="#000" stroke-width="1.0" stroke-linecap="butt"/>
<line x1="154.37" y1="789.03" x2="154.37" y2="798.37" stroke="#000" stroke-width="1.0" stroke-linecap="butt"/>
<line x1="151.77" y1="789.03" x2="156.97" y2="789.03" stroke="#000" stroke-width="1.0" stroke-linecap="butt"/>
<line x1="151.77" y1="798.37" x2="156.97" y2="798.37" stroke="#000" stroke-width="1.0" stroke-linecap="butt"/>
<line x1="166.98" y1="802.03" x2="166.98" y2="809.55" stroke="#000" stroke-width="1.0" stroke-linecap="butt"/>
<line x1="164.38" y1="802.03" x2="169.58" y2="802.03" stroke="#000" stroke-width="1.0" stroke-linecap="butt"/>
<line x1="164.38" y1="809.55" x2="169.58" y2="809.55" stroke="#000" stroke-width="1.0" stroke-linecap="butt"/>
<line x1="179.60" y1="815.95" x2="179.60" y2="824.08" stroke="#000" stroke-width="1.0" stroke-linecap="butt"/>
<line x1="177.00" y1="815.95" x2="182.20" y2="815.95" stroke="#000" stroke-width="1.0" stroke-linecap="butt"/>
<line x1="177.00" y1="824.08" x2="182.20" y2="824.08" stroke="#000" stroke-width="1.0" stroke-linecap="butt"/>
<line x1="192.21" y1="834.14" x2="192.21" y2="839.83" stroke="#000" stroke-width="1.0" stroke-linecap="butt"/>
<line x1="189.61" y1="834.14" x2="194.81" y2="834.14" stroke="#000" stroke-width="1.0" stroke-linecap="butt"/>
<line x1="189.61" y1="839.83" x2="194.81" y2="839.83" stroke="#000" stroke-width="1.0" stroke-linecap="butt"/>
<line x1="204.83" y1="844.20" x2="204.83" y2="849.28" stroke="#000" stroke-width="1.0" stroke-linecap="butt"/>
<line x1="202.23" y1="844.20" x2="207.43" y2="844.20" stroke="#000" stroke-width="1.0" stroke-linecap="butt"/>
<line x1="202.23" y1="849.28" x2="207.43" y2="849.28" stroke="#000" stroke-width="1.0" stroke-linecap="butt"/>
<line x1="217.44" y1="855.17" x2="217.44" y2="858.22" stroke="#000" stroke-width="1.0" stroke-linecap="butt"/>
<line x1="214.84" y1="855.17" x2="220.04" y2="855.17" stroke="#000" stroke-width="1.0" stroke-linecap="butt"/>
<line x1="214.84" y1="858.22" x2="220.04" y2="858.22" stroke="#000" stroke-width="1.0" stroke-linecap="butt"/>
<line x1="230.06" y1="863.09" x2="230.06" y2="867.16" stroke="#000" stroke-width="1.0" stroke-linecap="butt"/>
<line x1="227.46" y1="863.09" x2="232.66" y2="863.09" stroke="#000" stroke-width="1.0" stroke-linecap="butt"/>
<line x1="227.46" y1="867.16" x2="232.66" y2="867.16" stroke="#000" stroke-width="1.0" stroke-linecap="butt"/>
<line x1="242.67" y1="870.71" x2="242.67" y2="872.75" stroke="#000" stroke-width="1.0" stroke-linecap="butt"/>
<line x1="240.07" y1="870.71" x2="245.27" y2="870.71" stroke="#000" stroke-width="1.0" stroke-linecap="butt"/>
<line x1="240.07" y1="872.75" x2="245.27" y2="872.75" stroke="#000" stroke-width="1.0" stroke-linecap="butt"/>
<line x1="255.29" y1="873.05" x2="255.29" y2="874.07" stroke="#000" stroke-width="1.0" stroke-linecap="butt"/>
<line x1="252.69" y1="873.05" x2="257.89" y2="873.05" stroke="#000" stroke-width="1.0" stroke-linecap="butt"/>
<line x1="252.69" y1="874.07" x2="257.89" y2="874.07" stroke="#000" stroke-width="1.0" stroke-linecap="butt"/>
<line x1="267.90" y1="873.05" x2="267.90" y2="874.07" stroke="#000" stroke-width="1.0" stroke-linecap="butt"/>
<line x1="265.30" y1="873.05" x2="270.50" y2="873.05" stroke="#000" stroke-width="1.0" stroke-linecap="butt"/>
<line x1="265.30" y1="874.07" x2="270.50" y2="874.07" stroke="#000" stroke-width="1.0" stroke-linecap="butt"/>
<line x1="280.52" y1="872.64" x2="280.52" y2="873.66" stroke="#000" stroke-width="1.0" stroke-linecap="butt"/>
<line x1="277.92" y1="872.64" x2="283.12" y2="872.64" stroke="#000" stroke-width="1.0" stroke-linecap="butt"/>
<line x1="277.92" y1="873.66" x2="283.12" y2="873.66" stroke="#000" stroke-width="1.0" stroke-linecap="butt"/>
<polyline points="91.29,860.76 103.91,801.12 116.52,775.11 129.14,769.82 141.75,779.98 154.37,793.70 166.98,805.79 179.60,820.02 192.21,836.98 204.83,846.74 217.44,856.69 230.06,865.13 242.67,871.73 255.29,873.56 267.90,873.56 280.52,873.15" fill="none" stroke="#000" stroke-width="1.0" stroke-linejoin="round"/>
<polyline points="91.29,857.61 103.91,792.89 116.52,748.69 129.14,749.40 141.75,762.61 154.37,778.05 166.98,793.40 179.60,812.09 192.21,826.52 204.83,843.28 217.44,854.56 230.06,860.15 242.67,867.77 255.29,873.56 267.90,874.47 280.52,876.00" fill="none" stroke="#ea3574" stroke-width="1.0" stroke-linejoin="round"/>
<rect x="88.59" y="854.91" width="5.4" height="5.4" fill="#ea3574"/>
<rect x="101.21" y="790.19" width="5.4" height="5.4" fill="#ea3574"/>
<rect x="113.82" y="745.99" width="5.4" height="5.4" fill="#ea3574"/>
<rect x="126.44" y="746.70" width="5.4" height="5.4" fill="#ea3574"/>
<rect x="139.05" y="759.91" width="5.4" height="5.4" fill="#ea3574"/>
<rect x="151.67" y="775.35" width="5.4" height="5.4" fill="#ea3574"/>
<rect x="164.28" y="790.70" width="5.4" height="5.4" fill="#ea3574"/>
<rect x="176.90" y="809.39" width="5.4" height="5.4" fill="#ea3574"/>
<rect x="189.51" y="823.82" width="5.4" height="5.4" fill="#ea3574"/>
<rect x="202.13" y="840.58" width="5.4" height="5.4" fill="#ea3574"/>
<rect x="214.74" y="851.86" width="5.4" height="5.4" fill="#ea3574"/>
<rect x="227.36" y="857.45" width="5.4" height="5.4" fill="#ea3574"/>
<rect x="239.97" y="865.07" width="5.4" height="5.4" fill="#ea3574"/>
<rect x="252.59" y="870.86" width="5.4" height="5.4" fill="#ea3574"/>
<rect x="265.20" y="871.77" width="5.4" height="5.4" fill="#ea3574"/>
<rect x="277.82" y="873.30" width="5.4" height="5.4" fill="#ea3574"/>
<circle cx="91.29" cy="860.76" r="2.8" fill="#000"/>
<circle cx="103.91" cy="801.12" r="2.8" fill="#000"/>
<circle cx="116.52" cy="775.11" r="2.8" fill="#000"/>
<circle cx="129.14" cy="769.82" r="2.8" fill="#000"/>
<circle cx="141.75" cy="779.98" r="2.8" fill="#000"/>
<circle cx="154.37" cy="793.70" r="2.8" fill="#000"/>
<circle cx="166.98" cy="805.79" r="2.8" fill="#000"/>
<circle cx="179.60" cy="820.02" r="2.8" fill="#000"/>
<circle cx="192.21" cy="836.98" r="2.8" fill="#000"/>
<circle cx="204.83" cy="846.74" r="2.8" fill="#000"/>
<circle cx="217.44" cy="856.69" r="2.8" fill="#000"/>
<circle cx="230.06" cy="865.13" r="2.8" fill="#000"/>
<circle cx="242.67" cy="871.73" r="2.8" fill="#000"/>
<circle cx="255.29" cy="873.56" r="2.8" fill="#000"/>
<circle cx="267.90" cy="873.56" r="2.8" fill="#000"/>
<circle cx="280.52" cy="873.15" r="2.8" fill="#000"/>
<text transform="translate(44.60,797.00) rotate(-90)" font-size="12.2" font-weight="bold" text-anchor="middle" fill="#000" >Dendrite Length (<tspan font-family="Liberation Serif" font-weight="normal">μ</tspan>m)</text>
<text x="194.50" y="915.00" font-size="12.66" font-weight="bold" text-anchor="middle" fill="#000" >Radial distance from soma (<tspan font-family="Liberation Serif" font-weight="normal">μ</tspan>m)</text>
<line x1="211.20" y1="733.90" x2="227.60" y2="733.90" stroke="#000" stroke-width="1.0" stroke-linecap="butt"/>
<circle cx="219.40" cy="733.90" r="2.8" fill="#000"/>
<line x1="211.20" y1="749.60" x2="227.60" y2="749.60" stroke="#ea3574" stroke-width="1.0" stroke-linecap="butt"/>
<rect x="216.7" y="746.9" width="5.4" height="5.4" fill="#ea3574"/>
<text x="236.30" y="737.60" font-size="12.6" font-weight="normal" text-anchor="start" fill="#000" >Home cage</text>
<text x="236.30" y="753.20" font-size="12.6" font-weight="normal" text-anchor="start" fill="#000" >Re-exposure</text>
<polyline points="312.00,730.20 318.50,730.20 318.50,750.20 312.00,750.20" fill="none" stroke="#000" stroke-width="1.5" stroke-linejoin="miter"/>
<text x="321.80" y="746.40" font-size="12.2" font-weight="normal" text-anchor="start" fill="#000" >***</text>
<line x1="401.00" y1="724.30" x2="401.00" y2="877.20" stroke="#000" stroke-width="1.5" stroke-linecap="butt"/>
<line x1="400.30" y1="877.20" x2="628.80" y2="877.20" stroke="#000" stroke-width="1.5" stroke-linecap="butt"/>
<line x1="394.30" y1="877.20" x2="401.00" y2="877.20" stroke="#000" stroke-width="1.5" stroke-linecap="butt"/>
<text x="392.10" y="881.20" font-size="11" font-weight="bold" text-anchor="end" fill="#000" >0</text>
<line x1="394.30" y1="813.78" x2="401.00" y2="813.78" stroke="#000" stroke-width="1.5" stroke-linecap="butt"/>
<text x="392.10" y="817.78" font-size="11" font-weight="bold" text-anchor="end" fill="#000" >5</text>
<line x1="394.30" y1="750.37" x2="401.00" y2="750.37" stroke="#000" stroke-width="1.5" stroke-linecap="butt"/>
<text x="392.10" y="754.37" font-size="11" font-weight="bold" text-anchor="end" fill="#000" >10</text>
<line x1="397.80" y1="864.52" x2="401.00" y2="864.52" stroke="#000" stroke-width="1.5" stroke-linecap="butt"/>
<line x1="397.80" y1="851.83" x2="401.00" y2="851.83" stroke="#000" stroke-width="1.5" stroke-linecap="butt"/>
<line x1="397.80" y1="839.15" x2="401.00" y2="839.15" stroke="#000" stroke-width="1.5" stroke-linecap="butt"/>
<line x1="397.80" y1="826.47" x2="401.00" y2="826.47" stroke="#000" stroke-width="1.5" stroke-linecap="butt"/>
<line x1="397.80" y1="801.10" x2="401.00" y2="801.10" stroke="#000" stroke-width="1.5" stroke-linecap="butt"/>
<line x1="397.80" y1="788.42" x2="401.00" y2="788.42" stroke="#000" stroke-width="1.5" stroke-linecap="butt"/>
<line x1="397.80" y1="775.73" x2="401.00" y2="775.73" stroke="#000" stroke-width="1.5" stroke-linecap="butt"/>
<line x1="397.80" y1="763.05" x2="401.00" y2="763.05" stroke="#000" stroke-width="1.5" stroke-linecap="butt"/>
<line x1="397.80" y1="737.68" x2="401.00" y2="737.68" stroke="#000" stroke-width="1.5" stroke-linecap="butt"/>
<line x1="397.80" y1="725.00" x2="401.00" y2="725.00" stroke="#000" stroke-width="1.5" stroke-linecap="butt"/>
<line x1="401.00" y1="877.20" x2="401.00" y2="883.70" stroke="#000" stroke-width="1.5" stroke-linecap="butt"/>
<text x="401.00" y="895.30" font-size="11" font-weight="bold" text-anchor="middle" fill="#000" >0</text>
<line x1="464.10" y1="877.20" x2="464.10" y2="883.70" stroke="#000" stroke-width="1.5" stroke-linecap="butt"/>
<text x="464.10" y="895.30" font-size="11" font-weight="bold" text-anchor="middle" fill="#000" >50</text>
<line x1="527.20" y1="877.20" x2="527.20" y2="883.70" stroke="#000" stroke-width="1.5" stroke-linecap="butt"/>
<text x="527.20" y="895.30" font-size="11" font-weight="bold" text-anchor="middle" fill="#000" >100</text>
<line x1="590.30" y1="877.20" x2="590.30" y2="883.70" stroke="#000" stroke-width="1.5" stroke-linecap="butt"/>
<text x="590.30" y="895.30" font-size="11" font-weight="bold" text-anchor="middle" fill="#000" >150</text>
<line x1="432.55" y1="877.20" x2="432.55" y2="881.00" stroke="#000" stroke-width="1.5" stroke-linecap="butt"/>
<line x1="495.65" y1="877.20" x2="495.65" y2="881.00" stroke="#000" stroke-width="1.5" stroke-linecap="butt"/>
<line x1="558.75" y1="877.20" x2="558.75" y2="881.00" stroke="#000" stroke-width="1.5" stroke-linecap="butt"/>
<line x1="621.85" y1="877.20" x2="621.85" y2="881.00" stroke="#000" stroke-width="1.5" stroke-linecap="butt"/>
<line x1="411.10" y1="809.34" x2="411.10" y2="814.42" stroke="#ea3574" stroke-width="1.0" stroke-linecap="butt"/>
<line x1="408.50" y1="809.34" x2="413.70" y2="809.34" stroke="#ea3574" stroke-width="1.0" stroke-linecap="butt"/>
<line x1="408.50" y1="814.42" x2="413.70" y2="814.42" stroke="#ea3574" stroke-width="1.0" stroke-linecap="butt"/>
<line x1="423.72" y1="774.34" x2="423.72" y2="781.95" stroke="#ea3574" stroke-width="1.0" stroke-linecap="butt"/>
<line x1="421.12" y1="774.34" x2="426.32" y2="774.34" stroke="#ea3574" stroke-width="1.0" stroke-linecap="butt"/>
<line x1="421.12" y1="781.95" x2="426.32" y2="781.95" stroke="#ea3574" stroke-width="1.0" stroke-linecap="butt"/>
<line x1="436.34" y1="751.64" x2="436.34" y2="765.59" stroke="#ea3574" stroke-width="1.0" stroke-linecap="butt"/>
<line x1="433.74" y1="751.64" x2="438.94" y2="751.64" stroke="#ea3574" stroke-width="1.0" stroke-linecap="butt"/>
<line x1="433.74" y1="765.59" x2="438.94" y2="765.59" stroke="#ea3574" stroke-width="1.0" stroke-linecap="butt"/>
<line x1="448.96" y1="755.44" x2="448.96" y2="770.66" stroke="#ea3574" stroke-width="1.0" stroke-linecap="butt"/>
<line x1="446.36" y1="755.44" x2="451.56" y2="755.44" stroke="#ea3574" stroke-width="1.0" stroke-linecap="butt"/>
<line x1="446.36" y1="770.66" x2="451.56" y2="770.66" stroke="#ea3574" stroke-width="1.0" stroke-linecap="butt"/>
<line x1="461.58" y1="767.62" x2="461.58" y2="781.57" stroke="#ea3574" stroke-width="1.0" stroke-linecap="butt"/>
<line x1="458.98" y1="767.62" x2="464.18" y2="767.62" stroke="#ea3574" stroke-width="1.0" stroke-linecap="butt"/>
<line x1="458.98" y1="781.57" x2="464.18" y2="781.57" stroke="#ea3574" stroke-width="1.0" stroke-linecap="butt"/>
<line x1="474.20" y1="779.54" x2="474.20" y2="793.49" stroke="#ea3574" stroke-width="1.0" stroke-linecap="butt"/>
<line x1="471.60" y1="779.54" x2="476.80" y2="779.54" stroke="#ea3574" stroke-width="1.0" stroke-linecap="butt"/>
<line x1="471.60" y1="793.49" x2="476.80" y2="793.49" stroke="#ea3574" stroke-width="1.0" stroke-linecap="butt"/>
<line x1="486.82" y1="801.61" x2="486.82" y2="810.49" stroke="#ea3574" stroke-width="1.0" stroke-linecap="butt"/>
<line x1="484.22" y1="801.61" x2="489.42" y2="801.61" stroke="#ea3574" stroke-width="1.0" stroke-linecap="butt"/>
<line x1="484.22" y1="810.49" x2="489.42" y2="810.49" stroke="#ea3574" stroke-width="1.0" stroke-linecap="butt"/>
<line x1="499.44" y1="817.72" x2="499.44" y2="825.33" stroke="#ea3574" stroke-width="1.0" stroke-linecap="butt"/>
<line x1="496.84" y1="817.72" x2="502.04" y2="817.72" stroke="#ea3574" stroke-width="1.0" stroke-linecap="butt"/>
<line x1="496.84" y1="825.33" x2="502.04" y2="825.33" stroke="#ea3574" stroke-width="1.0" stroke-linecap="butt"/>
<line x1="512.06" y1="833.06" x2="512.06" y2="839.40" stroke="#ea3574" stroke-width="1.0" stroke-linecap="butt"/>
<line x1="509.46" y1="833.06" x2="514.66" y2="833.06" stroke="#ea3574" stroke-width="1.0" stroke-linecap="butt"/>
<line x1="509.46" y1="839.40" x2="514.66" y2="839.40" stroke="#ea3574" stroke-width="1.0" stroke-linecap="butt"/>
<line x1="524.68" y1="848.79" x2="524.68" y2="852.59" stroke="#ea3574" stroke-width="1.0" stroke-linecap="butt"/>
<line x1="522.08" y1="848.79" x2="527.28" y2="848.79" stroke="#ea3574" stroke-width="1.0" stroke-linecap="butt"/>
<line x1="522.08" y1="852.59" x2="527.28" y2="852.59" stroke="#ea3574" stroke-width="1.0" stroke-linecap="butt"/>
<line x1="537.30" y1="856.78" x2="537.30" y2="859.32" stroke="#ea3574" stroke-width="1.0" stroke-linecap="butt"/>
<line x1="534.70" y1="856.78" x2="539.90" y2="856.78" stroke="#ea3574" stroke-width="1.0" stroke-linecap="butt"/>
<line x1="534.70" y1="859.32" x2="539.90" y2="859.32" stroke="#ea3574" stroke-width="1.0" stroke-linecap="butt"/>
<line x1="549.92" y1="864.52" x2="549.92" y2="867.05" stroke="#ea3574" stroke-width="1.0" stroke-linecap="butt"/>
<line x1="547.32" y1="864.52" x2="552.52" y2="864.52" stroke="#ea3574" stroke-width="1.0" stroke-linecap="butt"/>
<line x1="547.32" y1="867.05" x2="552.52" y2="867.05" stroke="#ea3574" stroke-width="1.0" stroke-linecap="butt"/>
<line x1="562.54" y1="869.72" x2="562.54" y2="872.25" stroke="#ea3574" stroke-width="1.0" stroke-linecap="butt"/>
<line x1="559.94" y1="869.72" x2="565.14" y2="869.72" stroke="#ea3574" stroke-width="1.0" stroke-linecap="butt"/>
<line x1="559.94" y1="872.25" x2="565.14" y2="872.25" stroke="#ea3574" stroke-width="1.0" stroke-linecap="butt"/>
<line x1="575.16" y1="869.72" x2="575.16" y2="872.25" stroke="#ea3574" stroke-width="1.0" stroke-linecap="butt"/>
<line x1="572.56" y1="869.72" x2="577.76" y2="869.72" stroke="#ea3574" stroke-width="1.0" stroke-linecap="butt"/>
<line x1="572.56" y1="872.25" x2="577.76" y2="872.25" stroke="#ea3574" stroke-width="1.0" stroke-linecap="butt"/>
<line x1="587.78" y1="874.03" x2="587.78" y2="875.30" stroke="#ea3574" stroke-width="1.0" stroke-linecap="butt"/>
<line x1="585.18" y1="874.03" x2="590.38" y2="874.03" stroke="#ea3574" stroke-width="1.0" stroke-linecap="butt"/>
<line x1="585.18" y1="875.30" x2="590.38" y2="875.30" stroke="#ea3574" stroke-width="1.0" stroke-linecap="butt"/>
<line x1="600.40" y1="874.79" x2="600.40" y2="876.06" stroke="#ea3574" stroke-width="1.0" stroke-linecap="butt"/>
<line x1="597.80" y1="874.79" x2="603.00" y2="874.79" stroke="#ea3574" stroke-width="1.0" stroke-linecap="butt"/>
<line x1="597.80" y1="876.06" x2="603.00" y2="876.06" stroke="#ea3574" stroke-width="1.0" stroke-linecap="butt"/>
<line x1="411.10" y1="816.95" x2="411.10" y2="824.56" stroke="#000" stroke-width="1.0" stroke-linecap="butt"/>
<line x1="408.50" y1="816.95" x2="413.70" y2="816.95" stroke="#000" stroke-width="1.0" stroke-linecap="butt"/>
<line x1="408.50" y1="824.56" x2="413.70" y2="824.56" stroke="#000" stroke-width="1.0" stroke-linecap="butt"/>
<line x1="423.72" y1="784.87" x2="423.72" y2="793.74" stroke="#000" stroke-width="1.0" stroke-linecap="butt"/>
<line x1="421.12" y1="784.87" x2="426.32" y2="784.87" stroke="#000" stroke-width="1.0" stroke-linecap="butt"/>
<line x1="421.12" y1="793.74" x2="426.32" y2="793.74" stroke="#000" stroke-width="1.0" stroke-linecap="butt"/>
<line x1="436.34" y1="775.73" x2="436.34" y2="779.54" stroke="#000" stroke-width="1.0" stroke-linecap="butt"/>
<line x1="433.74" y1="775.73" x2="438.94" y2="775.73" stroke="#000" stroke-width="1.0" stroke-linecap="butt"/>
<line x1="433.74" y1="779.54" x2="438.94" y2="779.54" stroke="#000" stroke-width="1.0" stroke-linecap="butt"/>
<line x1="448.96" y1="775.73" x2="448.96" y2="783.34" stroke="#000" stroke-width="1.0" stroke-linecap="butt"/>
<line x1="446.36" y1="775.73" x2="451.56" y2="775.73" stroke="#000" stroke-width="1.0" stroke-linecap="butt"/>
<line x1="446.36" y1="783.34" x2="451.56" y2="783.34" stroke="#000" stroke-width="1.0" stroke-linecap="butt"/>
<line x1="461.58" y1="786.77" x2="461.58" y2="793.11" stroke="#000" stroke-width="1.0" stroke-linecap="butt"/>
<line x1="458.98" y1="786.77" x2="464.18" y2="786.77" stroke="#000" stroke-width="1.0" stroke-linecap="butt"/>
<line x1="458.98" y1="793.11" x2="464.18" y2="793.11" stroke="#000" stroke-width="1.0" stroke-linecap="butt"/>
<line x1="474.20" y1="793.49" x2="474.20" y2="806.17" stroke="#000" stroke-width="1.0" stroke-linecap="butt"/>
<line x1="471.60" y1="793.49" x2="476.80" y2="793.49" stroke="#000" stroke-width="1.0" stroke-linecap="butt"/>
<line x1="471.60" y1="806.17" x2="476.80" y2="806.17" stroke="#000" stroke-width="1.0" stroke-linecap="butt"/>
<line x1="486.82" y1="812.77" x2="486.82" y2="824.18" stroke="#000" stroke-width="1.0" stroke-linecap="butt"/>
<line x1="484.22" y1="812.77" x2="489.42" y2="812.77" stroke="#000" stroke-width="1.0" stroke-linecap="butt"/>
<line x1="484.22" y1="824.18" x2="489.42" y2="824.18" stroke="#000" stroke-width="1.0" stroke-linecap="butt"/>
<line x1="499.44" y1="826.47" x2="499.44" y2="834.08" stroke="#000" stroke-width="1.0" stroke-linecap="butt"/>
<line x1="496.84" y1="826.47" x2="502.04" y2="826.47" stroke="#000" stroke-width="1.0" stroke-linecap="butt"/>
<line x1="496.84" y1="834.08" x2="502.04" y2="834.08" stroke="#000" stroke-width="1.0" stroke-linecap="butt"/>
<line x1="512.06" y1="840.42" x2="512.06" y2="846.76" stroke="#000" stroke-width="1.0" stroke-linecap="butt"/>
<line x1="509.46" y1="840.42" x2="514.66" y2="840.42" stroke="#000" stroke-width="1.0" stroke-linecap="butt"/>
<line x1="509.46" y1="846.76" x2="514.66" y2="846.76" stroke="#000" stroke-width="1.0" stroke-linecap="butt"/>
<line x1="524.68" y1="851.07" x2="524.68" y2="854.88" stroke="#000" stroke-width="1.0" stroke-linecap="butt"/>
<line x1="522.08" y1="851.07" x2="527.28" y2="851.07" stroke="#000" stroke-width="1.0" stroke-linecap="butt"/>
<line x1="522.08" y1="854.88" x2="527.28" y2="854.88" stroke="#000" stroke-width="1.0" stroke-linecap="butt"/>
<line x1="537.30" y1="860.20" x2="537.30" y2="862.74" stroke="#000" stroke-width="1.0" stroke-linecap="butt"/>
<line x1="534.70" y1="860.20" x2="539.90" y2="860.20" stroke="#000" stroke-width="1.0" stroke-linecap="butt"/>
<line x1="534.70" y1="862.74" x2="539.90" y2="862.74" stroke="#000" stroke-width="1.0" stroke-linecap="butt"/>
<line x1="549.92" y1="867.94" x2="549.92" y2="870.48" stroke="#000" stroke-width="1.0" stroke-linecap="butt"/>
<line x1="547.32" y1="867.94" x2="552.52" y2="867.94" stroke="#000" stroke-width="1.0" stroke-linecap="butt"/>
<line x1="547.32" y1="870.48" x2="552.52" y2="870.48" stroke="#000" stroke-width="1.0" stroke-linecap="butt"/>
<line x1="562.54" y1="872.00" x2="562.54" y2="874.54" stroke="#000" stroke-width="1.0" stroke-linecap="butt"/>
<line x1="559.94" y1="872.00" x2="565.14" y2="872.00" stroke="#000" stroke-width="1.0" stroke-linecap="butt"/>
<line x1="559.94" y1="874.54" x2="565.14" y2="874.54" stroke="#000" stroke-width="1.0" stroke-linecap="butt"/>
<line x1="575.16" y1="871.37" x2="575.16" y2="873.90" stroke="#000" stroke-width="1.0" stroke-linecap="butt"/>
<line x1="572.56" y1="871.37" x2="577.76" y2="871.37" stroke="#000" stroke-width="1.0" stroke-linecap="butt"/>
<line x1="572.56" y1="873.90" x2="577.76" y2="873.90" stroke="#000" stroke-width="1.0" stroke-linecap="butt"/>
<line x1="587.78" y1="870.60" x2="587.78" y2="873.14" stroke="#000" stroke-width="1.0" stroke-linecap="butt"/>
<line x1="585.18" y1="870.60" x2="590.38" y2="870.60" stroke="#000" stroke-width="1.0" stroke-linecap="butt"/>
<line x1="585.18" y1="873.14" x2="590.38" y2="873.14" stroke="#000" stroke-width="1.0" stroke-linecap="butt"/>
<line x1="600.40" y1="874.79" x2="600.40" y2="876.06" stroke="#000" stroke-width="1.0" stroke-linecap="butt"/>
<line x1="597.80" y1="874.79" x2="603.00" y2="874.79" stroke="#000" stroke-width="1.0" stroke-linecap="butt"/>
<line x1="597.80" y1="876.06" x2="603.00" y2="876.06" stroke="#000" stroke-width="1.0" stroke-linecap="butt"/>
<polyline points="411.10,820.76 423.72,789.30 436.34,777.64 448.96,779.54 461.58,789.94 474.20,799.83 486.82,818.48 499.44,830.27 512.06,843.59 524.68,852.97 537.30,861.47 549.92,869.21 562.54,873.27 575.16,872.63 587.78,871.87 600.40,875.42" fill="none" stroke="#000" stroke-width="1.0" stroke-linejoin="round"/>
<polyline points="411.10,811.88 423.72,778.14 436.34,758.61 448.96,763.05 461.58,774.59 474.20,786.51 486.82,806.05 499.44,821.52 512.06,836.23 524.68,850.69 537.30,858.05 549.92,865.79 562.54,870.99 575.16,870.99 587.78,874.66 600.40,875.42" fill="none" stroke="#ea3574" stroke-width="1.0" stroke-linejoin="round"/>
<rect x="408.40" y="809.18" width="5.4" height="5.4" fill="#ea3574"/>
<rect x="421.02" y="775.44" width="5.4" height="5.4" fill="#ea3574"/>
<rect x="433.64" y="755.91" width="5.4" height="5.4" fill="#ea3574"/>
<rect x="446.26" y="760.35" width="5.4" height="5.4" fill="#ea3574"/>
<rect x="458.88" y="771.89" width="5.4" height="5.4" fill="#ea3574"/>
<rect x="471.50" y="783.81" width="5.4" height="5.4" fill="#ea3574"/>
<rect x="484.12" y="803.35" width="5.4" height="5.4" fill="#ea3574"/>
<rect x="496.74" y="818.82" width="5.4" height="5.4" fill="#ea3574"/>
<rect x="509.36" y="833.53" width="5.4" height="5.4" fill="#ea3574"/>
<rect x="521.98" y="847.99" width="5.4" height="5.4" fill="#ea3574"/>
<rect x="534.60" y="855.35" width="5.4" height="5.4" fill="#ea3574"/>
<rect x="547.22" y="863.09" width="5.4" height="5.4" fill="#ea3574"/>
<rect x="559.84" y="868.29" width="5.4" height="5.4" fill="#ea3574"/>
<rect x="572.46" y="868.29" width="5.4" height="5.4" fill="#ea3574"/>
<rect x="585.08" y="871.96" width="5.4" height="5.4" fill="#ea3574"/>
<rect x="597.70" y="872.72" width="5.4" height="5.4" fill="#ea3574"/>
<circle cx="411.10" cy="820.76" r="2.8" fill="#000"/>
<circle cx="423.72" cy="789.30" r="2.8" fill="#000"/>
<circle cx="436.34" cy="777.64" r="2.8" fill="#000"/>
<circle cx="448.96" cy="779.54" r="2.8" fill="#000"/>
<circle cx="461.58" cy="789.94" r="2.8" fill="#000"/>
<circle cx="474.20" cy="799.83" r="2.8" fill="#000"/>
<circle cx="486.82" cy="818.48" r="2.8" fill="#000"/>
<circle cx="499.44" cy="830.27" r="2.8" fill="#000"/>
<circle cx="512.06" cy="843.59" r="2.8" fill="#000"/>
<circle cx="524.68" cy="852.97" r="2.8" fill="#000"/>
<circle cx="537.30" cy="861.47" r="2.8" fill="#000"/>
<circle cx="549.92" cy="869.21" r="2.8" fill="#000"/>
<circle cx="562.54" cy="873.27" r="2.8" fill="#000"/>
<circle cx="575.16" cy="872.63" r="2.8" fill="#000"/>
<circle cx="587.78" cy="871.87" r="2.8" fill="#000"/>
<circle cx="600.40" cy="875.42" r="2.8" fill="#000"/>
<text transform="translate(373.20,801.00) rotate(-90)" font-size="12.6" font-weight="bold" text-anchor="middle" fill="#000" ># of intersections</text>
<text x="513.80" y="916.00" font-size="12.76" font-weight="bold" text-anchor="middle" fill="#000" >Radial distance from soma (<tspan font-family="Liberation Serif" font-weight="normal">μ</tspan>m)</text>
<line x1="535.90" y1="740.00" x2="551.50" y2="740.00" stroke="#000" stroke-width="1.0" stroke-linecap="butt"/>
<circle cx="543.80" cy="740.00" r="2.8" fill="#000"/>
<line x1="535.90" y1="756.20" x2="551.50" y2="756.20" stroke="#ea3574" stroke-width="1.0" stroke-linecap="butt"/>
<rect x="541.1" y="753.5" width="5.4" height="5.4" fill="#ea3574"/>
<text x="561.00" y="744.20" font-size="12.7" font-weight="normal" text-anchor="start" fill="#000" >Home cage</text>
<text x="561.00" y="760.60" font-size="12.7" font-weight="normal" text-anchor="start" fill="#000" >Re-exposure</text>
<polyline points="636.80,739.80 643.80,739.80 643.80,758.50 636.80,758.50" fill="none" stroke="#000" stroke-width="1.5" stroke-linejoin="miter"/>
<text x="646.80" y="755.60" font-size="12.2" font-weight="normal" text-anchor="start" fill="#000" >***</text>
<defs>
<filter id="bl0" x="-20%" y="-20%" width="140%" height="140%"><feGaussianBlur stdDeviation="0.3"/></filter>
<filter id="bl1" x="-20%" y="-20%" width="140%" height="140%"><feGaussianBlur stdDeviation="0.45"/></filter>
<filter id="bl2" x="-20%" y="-20%" width="140%" height="140%"><feGaussianBlur stdDeviation="0.9"/></filter>
<filter id="bl3" x="-20%" y="-20%" width="140%" height="140%"><feGaussianBlur stdDeviation="1.6"/></filter>
<clipPath id="cA"><rect x="33.3" y="23" width="173.9" height="151.8"/></clipPath>
<clipPath id="cH1"><rect x="260" y="76.8" width="107.2" height="40.4"/></clipPath>
<clipPath id="cH2"><rect x="261" y="122" width="106.8" height="41"/></clipPath>
<clipPath id="cR1"><rect x="381.4" y="76.9" width="97.5" height="39.7"/></clipPath>
<clipPath id="cR2"><rect x="381.4" y="121.9" width="98.7" height="40.7"/></clipPath>
</defs>
<rect x="33.3" y="23" width="173.9" height="151.8" fill="#070102"/>
<g clip-path="url(#cA)">
<circle cx="89.5" cy="46.3" r="0.56" fill="#a01010" fill-opacity="0.14"/><circle cx="126.2" cy="78.7" r="0.32" fill="#a01010" fill-opacity="0.27"/><circle cx="40.0" cy="89.0" r="0.33" fill="#a01010" fill-opacity="0.15"/><circle cx="106.9" cy="148.4" r="0.35" fill="#a01010" fill-opacity="0.19"/><circle cx="142.0" cy="166.6" r="0.53" fill="#a01010" fill-opacity="0.24"/><circle cx="202.4" cy="30.5" r="0.64" fill="#a01010" fill-opacity="0.21"/><circle cx="58.5" cy="41.3" r="0.42" fill="#a01010" fill-opacity="0.36"/><circle cx="64.8" cy="111.3" r="0.56" fill="#a01010" fill-opacity="0.23"/><circle cx="128.3" cy="33.0" r="0.32" fill="#a01010" fill-opacity="0.18"/><circle cx="151.2" cy="88.1" r="0.43" fill="#a01010" fill-opacity="0.30"/><circle cx="111.9" cy="68.8" r="0.62" fill="#a01010" fill-opacity="0.33"/><circle cx="75.7" cy="110.2" r="0.51" fill="#a01010" fill-opacity="0.38"/><circle cx="159.7" cy="67.0" r="0.69" fill="#a01010" fill-opacity="0.16"/><circle cx="105.8" cy="137.8" r="0.36" fill="#a01010" fill-opacity="0.27"/><circle cx="40.3" cy="124.4" r="0.61" fill="#a01010" fill-opacity="0.29"/><circle cx="185.0" cy="70.9" r="0.58" fill="#a01010" fill-opacity="0.30"/><circle cx="133.8" cy="92.4" r="0.64" fill="#a01010" fill-opacity="0.40"/><circle cx="115.5" cy="123.8" r="0.32" fill="#a01010" fill-opacity="0.33"/><circle cx="145.5" cy="173.5" r="0.63" fill="#a01010" fill-opacity="0.21"/><circle cx="100.2" cy="124.5" r="0.31" fill="#a01010" fill-opacity="0.26"/><circle cx="62.6" cy="41.2" r="0.32" fill="#a01010" fill-opacity="0.35"/><circle cx="55.9" cy="60.9" r="0.46" fill="#a01010" fill-opacity="0.38"/><circle cx="47.4" cy="91.3" r="0.52" fill="#a01010" fill-opacity="0.39"/><circle cx="175.2" cy="154.0" r="0.41" fill="#a01010" fill-opacity="0.24"/><circle cx="95.6" cy="157.0" r="0.68" fill="#a01010" fill-opacity="0.17"/><circle cx="64.0" cy="58.5" r="0.39" fill="#a01010" fill-opacity="0.27"/><circle cx="135.4" cy="63.2" r="0.30" fill="#a01010" fill-opacity="0.25"/><circle cx="97.4" cy="109.0" r="0.68" fill="#a01010" fill-opacity="0.33"/><circle cx="122.7" cy="116.8" r="0.57" fill="#a01010" fill-opacity="0.14"/><circle cx="189.1" cy="141.3" r="0.65" fill="#a01010" fill-opacity="0.36"/><circle cx="101.4" cy="83.7" r="0.34" fill="#a01010" fill-opacity="0.31"/><circle cx="44.3" cy="33.7" r="0.38" fill="#a01010" fill-opacity="0.17"/><circle cx="92.3" cy="31.4" r="0.30" fill="#a01010" fill-opacity="0.17"/><circle cx="51.1" cy="78.4" r="0.31" fill="#a01010" fill-opacity="0.38"/><circle cx="139.7" cy="45.9" r="0.40" fill="#a01010" fill-opacity="0.22"/><circle cx="96.5" cy="42.0" r="0.64" fill="#a01010" fill-opacity="0.42"/><circle cx="114.1" cy="96.6" r="0.33" fill="#a01010" fill-opacity="0.15"/><circle cx="92.8" cy="63.5" r="0.63" fill="#a01010" fill-opacity="0.17"/><circle cx="37.5" cy="167.1" r="0.51" fill="#a01010" fill-opacity="0.16"/><circle cx="127.5" cy="27.6" r="0.51" fill="#a01010" fill-opacity="0.41"/><circle cx="182.9" cy="128.6" r="0.40" fill="#a01010" fill-opacity="0.23"/><circle cx="62.4" cy="140.1" r="0.51" fill="#a01010" fill-opacity="0.35"/><circle cx="90.5" cy="57.2" r="0.62" fill="#a01010" fill-opacity="0.42"/><circle cx="181.0" cy="145.2" r="0.63" fill="#a01010" fill-opacity="0.34"/><circle cx="72.7" cy="101.7" r="0.44" fill="#a01010" fill-opacity="0.13"/><circle cx="38.3" cy="65.7" r="0.40" fill="#a01010" fill-opacity="0.33"/><circle cx="199.0" cy="91.0" r="0.67" fill="#a01010" fill-opacity="0.42"/><circle cx="198.7" cy="78.6" r="0.39" fill="#a01010" fill-opacity="0.19"/><circle cx="67.5" cy="54.4" r="0.55" fill="#a01010" fill-opacity="0.39"/><circle cx="178.9" cy="95.9" r="0.56" fill="#a01010" fill-opacity="0.36"/><circle cx="48.2" cy="123.2" r="0.66" fill="#a01010" fill-opacity="0.35"/><circle cx="163.3" cy="95.7" r="0.37" fill="#a01010" fill-opacity="0.36"/><circle cx="91.0" cy="144.4" r="0.69" fill="#a01010" fill-opacity="0.24"/><circle cx="102.9" cy="166.5" r="0.59" fill="#a01010" fill-opacity="0.17"/><circle cx="55.5" cy="46.3" r="0.66" fill="#a01010" fill-opacity="0.36"/><circle cx="58.8" cy="148.3" r="0.69" fill="#a01010" fill-opacity="0.32"/><circle cx="94.1" cy="106.3" r="0.35" fill="#a01010" fill-opacity="0.12"/><circle cx="201.5" cy="121.6" r="0.51" fill="#a01010" fill-opacity="0.40"/><circle cx="108.5" cy="155.1" r="0.63" fill="#a01010" fill-opacity="0.18"/><circle cx="77.1" cy="67.7" r="0.40" fill="#a01010" fill-opacity="0.30"/><circle cx="78.4" cy="86.8" r="0.35" fill="#a01010" fill-opacity="0.39"/><circle cx="94.7" cy="92.7" r="0.53" fill="#a01010" fill-opacity="0.39"/><circle cx="106.3" cy="162.1" r="0.50" fill="#a01010" fill-opacity="0.28"/><circle cx="124.1" cy="26.3" r="0.48" fill="#a01010" fill-opacity="0.17"/><circle cx="34.2" cy="144.2" r="0.37" fill="#a01010" fill-opacity="0.26"/><circle cx="159.0" cy="107.5" r="0.43" fill="#a01010" fill-opacity="0.28"/><circle cx="129.6" cy="141.9" r="0.34" fill="#a01010" fill-opacity="0.29"/><circle cx="76.5" cy="65.3" r="0.61" fill="#a01010" fill-opacity="0.27"/><circle cx="130.7" cy="138.3" r="0.66" fill="#a01010" fill-opacity="0.25"/><circle cx="139.5" cy="99.8" r="0.50" fill="#a01010" fill-opacity="0.33"/><circle cx="111.8" cy="104.0" r="0.49" fill="#a01010" fill-opacity="0.40"/><circle cx="154.5" cy="155.9" r="0.68" fill="#a01010" fill-opacity="0.20"/><circle cx="130.3" cy="165.9" r="0.64" fill="#a01010" fill-opacity="0.16"/><circle cx="54.5" cy="90.3" r="0.33" fill="#a01010" fill-opacity="0.19"/><circle cx="46.1" cy="124.6" r="0.61" fill="#a01010" fill-opacity="0.39"/><circle cx="60.2" cy="131.6" r="0.56" fill="#a01010" fill-opacity="0.16"/><circle cx="186.2" cy="169.6" r="0.39" fill="#a01010" fill-opacity="0.41"/><circle cx="102.4" cy="97.1" r="0.70" fill="#a01010" fill-opacity="0.37"/><circle cx="61.4" cy="88.7" r="0.51" fill="#a01010" fill-opacity="0.22"/><circle cx="67.4" cy="71.6" r="0.59" fill="#a01010" fill-opacity="0.13"/><circle cx="129.4" cy="90.0" r="0.31" fill="#a01010" fill-opacity="0.22"/><circle cx="141.4" cy="100.9" r="0.33" fill="#a01010" fill-opacity="0.42"/><circle cx="169.9" cy="170.2" r="0.34" fill="#a01010" fill-opacity="0.20"/><circle cx="40.3" cy="141.1" r="0.41" fill="#a01010" fill-opacity="0.16"/><circle cx="106.5" cy="161.1" r="0.63" fill="#a01010" fill-opacity="0.20"/><circle cx="59.3" cy="162.3" r="0.53" fill="#a01010" fill-opacity="0.33"/><circle cx="49.0" cy="32.2" r="0.58" fill="#a01010" fill-opacity="0.25"/><circle cx="46.0" cy="165.2" r="0.55" fill="#a01010" fill-opacity="0.36"/><circle cx="48.0" cy="152.8" r="0.33" fill="#a01010" fill-opacity="0.38"/><circle cx="112.0" cy="74.7" r="0.52" fill="#a01010" fill-opacity="0.40"/><circle cx="79.8" cy="43.0" r="0.51" fill="#a01010" fill-opacity="0.19"/><circle cx="52.4" cy="47.9" r="0.32" fill="#a01010" fill-opacity="0.18"/><circle cx="87.5" cy="69.6" r="0.60" fill="#a01010" fill-opacity="0.21"/><circle cx="120.0" cy="50.4" r="0.44" fill="#a01010" fill-opacity="0.13"/><circle cx="76.8" cy="25.8" r="0.59" fill="#a01010" fill-opacity="0.29"/><circle cx="66.3" cy="95.2" r="0.67" fill="#a01010" fill-opacity="0.15"/><circle cx="175.2" cy="88.8" r="0.50" fill="#a01010" fill-opacity="0.37"/><circle cx="101.5" cy="100.0" r="0.58" fill="#a01010" fill-opacity="0.41"/><circle cx="92.8" cy="149.2" r="0.58" fill="#a01010" fill-opacity="0.31"/><circle cx="103.5" cy="76.0" r="0.32" fill="#a01010" fill-opacity="0.16"/><circle cx="45.7" cy="135.4" r="0.40" fill="#a01010" fill-opacity="0.17"/><circle cx="48.1" cy="150.5" r="0.65" fill="#a01010" fill-opacity="0.32"/><circle cx="82.3" cy="60.1" r="0.42" fill="#a01010" fill-opacity="0.26"/><circle cx="60.8" cy="90.8" r="0.41" fill="#a01010" fill-opacity="0.41"/><circle cx="201.8" cy="106.1" r="0.40" fill="#a01010" fill-opacity="0.41"/><circle cx="87.1" cy="77.3" r="0.30" fill="#a01010" fill-opacity="0.23"/><circle cx="115.6" cy="99.4" r="0.38" fill="#a01010" fill-opacity="0.27"/><circle cx="34.4" cy="63.4" r="0.34" fill="#a01010" fill-opacity="0.24"/><circle cx="40.7" cy="26.9" r="0.42" fill="#a01010" fill-opacity="0.19"/><circle cx="134.8" cy="103.4" r="0.60" fill="#a01010" fill-opacity="0.32"/><circle cx="157.4" cy="156.2" r="0.46" fill="#a01010" fill-opacity="0.22"/><circle cx="203.9" cy="46.1" r="0.59" fill="#a01010" fill-opacity="0.31"/><circle cx="41.1" cy="149.6" r="0.66" fill="#a01010" fill-opacity="0.31"/><circle cx="160.5" cy="146.1" r="0.36" fill="#a01010" fill-opacity="0.28"/><circle cx="120.8" cy="149.6" r="0.62" fill="#a01010" fill-opacity="0.37"/><circle cx="134.5" cy="158.3" r="0.57" fill="#a01010" fill-opacity="0.33"/><circle cx="73.3" cy="28.2" r="0.35" fill="#a01010" fill-opacity="0.23"/><circle cx="51.7" cy="149.7" r="0.52" fill="#a01010" fill-opacity="0.31"/><circle cx="141.8" cy="126.3" r="0.50" fill="#a01010" fill-opacity="0.12"/><circle cx="171.5" cy="136.5" r="0.50" fill="#a01010" fill-opacity="0.28"/><circle cx="147.6" cy="33.5" r="0.59" fill="#a01010" fill-opacity="0.20"/><circle cx="46.4" cy="63.6" r="0.59" fill="#a01010" fill-opacity="0.18"/><circle cx="161.5" cy="170.8" r="0.50" fill="#a01010" fill-opacity="0.23"/><circle cx="116.4" cy="126.7" r="0.61" fill="#a01010" fill-opacity="0.31"/><circle cx="144.7" cy="35.2" r="0.36" fill="#a01010" fill-opacity="0.20"/><circle cx="162.1" cy="69.5" r="0.53" fill="#a01010" fill-opacity="0.12"/><circle cx="44.0" cy="64.1" r="0.57" fill="#a01010" fill-opacity="0.33"/><circle cx="150.4" cy="67.4" r="0.51" fill="#a01010" fill-opacity="0.26"/><circle cx="114.2" cy="41.4" r="0.66" fill="#a01010" fill-opacity="0.18"/><circle cx="202.7" cy="164.9" r="0.31" fill="#a01010" fill-opacity="0.26"/><circle cx="175.3" cy="169.7" r="0.48" fill="#a01010" fill-opacity="0.20"/><circle cx="69.8" cy="166.3" r="0.38" fill="#a01010" fill-opacity="0.29"/><circle cx="58.0" cy="102.6" r="0.68" fill="#a01010" fill-opacity="0.16"/><circle cx="175.4" cy="100.3" r="0.65" fill="#a01010" fill-opacity="0.33"/><circle cx="73.5" cy="159.1" r="0.49" fill="#a01010" fill-opacity="0.13"/><circle cx="34.1" cy="97.7" r="0.48" fill="#a01010" fill-opacity="0.21"/><circle cx="57.8" cy="75.4" r="0.43" fill="#a01010" fill-opacity="0.37"/><circle cx="33.8" cy="136.9" r="0.64" fill="#a01010" fill-opacity="0.16"/><circle cx="193.8" cy="131.2" r="0.66" fill="#a01010" fill-opacity="0.21"/><circle cx="97.9" cy="82.8" r="0.70" fill="#a01010" fill-opacity="0.30"/><circle cx="95.9" cy="88.1" r="0.41" fill="#a01010" fill-opacity="0.13"/><circle cx="51.1" cy="149.5" r="0.41" fill="#a01010" fill-opacity="0.40"/><circle cx="76.6" cy="63.6" r="0.50" fill="#a01010" fill-opacity="0.18"/><circle cx="98.1" cy="167.9" r="0.65" fill="#a01010" fill-opacity="0.36"/><circle cx="142.6" cy="161.4" r="0.68" fill="#a01010" fill-opacity="0.28"/><circle cx="158.0" cy="31.0" r="0.59" fill="#a01010" fill-opacity="0.26"/><circle cx="163.7" cy="120.8" r="0.41" fill="#a01010" fill-opacity="0.13"/><circle cx="193.8" cy="42.7" r="0.49" fill="#a01010" fill-opacity="0.22"/><circle cx="85.0" cy="135.1" r="0.69" fill="#a01010" fill-opacity="0.20"/><circle cx="147.0" cy="68.9" r="0.52" fill="#a01010" fill-opacity="0.24"/><circle cx="62.4" cy="47.9" r="0.38" fill="#a01010" fill-opacity="0.39"/><circle cx="119.5" cy="56.7" r="0.66" fill="#a01010" fill-opacity="0.42"/><circle cx="111.3" cy="44.6" r="0.38" fill="#a01010" fill-opacity="0.15"/><circle cx="92.7" cy="37.3" r="0.40" fill="#a01010" fill-opacity="0.20"/><circle cx="132.0" cy="157.5" r="0.60" fill="#a01010" fill-opacity="0.24"/><circle cx="105.1" cy="102.6" r="0.45" fill="#a01010" fill-opacity="0.22"/><circle cx="44.2" cy="65.4" r="0.69" fill="#a01010" fill-opacity="0.16"/><circle cx="120.6" cy="118.6" r="0.65" fill="#a01010" fill-opacity="0.18"/><circle cx="80.4" cy="61.0" r="0.46" fill="#a01010" fill-opacity="0.25"/><circle cx="198.5" cy="151.7" r="0.65" fill="#a01010" fill-opacity="0.13"/><circle cx="39.1" cy="130.6" r="0.66" fill="#a01010" fill-opacity="0.26"/><circle cx="135.1" cy="23.5" r="0.46" fill="#a01010" fill-opacity="0.40"/><circle cx="176.3" cy="152.7" r="0.69" fill="#a01010" fill-opacity="0.19"/><circle cx="52.4" cy="46.8" r="0.51" fill="#a01010" fill-opacity="0.32"/><circle cx="196.4" cy="132.5" r="0.56" fill="#a01010" fill-opacity="0.35"/><circle cx="112.6" cy="106.8" r="0.32" fill="#a01010" fill-opacity="0.35"/><circle cx="73.7" cy="162.4" r="0.56" fill="#a01010" fill-opacity="0.21"/><circle cx="55.6" cy="61.5" r="0.55" fill="#a01010" fill-opacity="0.33"/><circle cx="52.9" cy="34.1" r="0.51" fill="#a01010" fill-opacity="0.29"/><circle cx="100.6" cy="57.3" r="0.54" fill="#a01010" fill-opacity="0.12"/><circle cx="85.7" cy="93.1" r="0.68" fill="#a01010" fill-opacity="0.31"/><circle cx="186.4" cy="95.3" r="0.39" fill="#a01010" fill-opacity="0.19"/><circle cx="199.7" cy="129.9" r="0.42" fill="#a01010" fill-opacity="0.13"/><circle cx="119.7" cy="125.3" r="0.47" fill="#a01010" fill-opacity="0.20"/><circle cx="149.0" cy="163.2" r="0.39" fill="#a01010" fill-opacity="0.13"/><circle cx="92.0" cy="87.0" r="0.57" fill="#a01010" fill-opacity="0.18"/><circle cx="171.4" cy="135.1" r="0.50" fill="#a01010" fill-opacity="0.18"/><circle cx="201.3" cy="70.6" r="0.63" fill="#a01010" fill-opacity="0.19"/><circle cx="71.8" cy="138.3" r="0.42" fill="#a01010" fill-opacity="0.41"/><circle cx="119.3" cy="51.8" r="0.39" fill="#a01010" fill-opacity="0.25"/><circle cx="148.6" cy="166.8" r="0.36" fill="#a01010" fill-opacity="0.24"/><circle cx="70.3" cy="170.6" r="0.36" fill="#a01010" fill-opacity="0.14"/><circle cx="43.9" cy="82.9" r="0.66" fill="#a01010" fill-opacity="0.39"/><circle cx="160.3" cy="174.1" r="0.67" fill="#a01010" fill-opacity="0.22"/><circle cx="65.6" cy="164.8" r="0.60" fill="#a01010" fill-opacity="0.13"/><circle cx="148.4" cy="80.7" r="0.45" fill="#a01010" fill-opacity="0.22"/><circle cx="62.8" cy="23.9" r="0.41" fill="#a01010" fill-opacity="0.23"/><circle cx="198.8" cy="42.2" r="0.69" fill="#a01010" fill-opacity="0.18"/><circle cx="95.2" cy="147.6" r="0.63" fill="#a01010" fill-opacity="0.25"/><circle cx="42.0" cy="95.0" r="0.45" fill="#a01010" fill-opacity="0.40"/><circle cx="66.9" cy="78.5" r="0.66" fill="#a01010" fill-opacity="0.13"/><circle cx="104.6" cy="146.1" r="0.61" fill="#a01010" fill-opacity="0.13"/><circle cx="39.5" cy="32.9" r="0.67" fill="#a01010" fill-opacity="0.20"/><circle cx="162.8" cy="159.2" r="0.44" fill="#a01010" fill-opacity="0.20"/><circle cx="199.2" cy="116.7" r="0.40" fill="#a01010" fill-opacity="0.33"/><circle cx="88.3" cy="65.1" r="0.30" fill="#a01010" fill-opacity="0.35"/><circle cx="192.0" cy="119.2" r="0.68" fill="#a01010" fill-opacity="0.13"/><circle cx="74.0" cy="95.3" r="0.68" fill="#a01010" fill-opacity="0.41"/><circle cx="100.4" cy="61.4" r="0.47" fill="#a01010" fill-opacity="0.27"/><circle cx="194.1" cy="51.1" r="0.62" fill="#a01010" fill-opacity="0.34"/><circle cx="175.8" cy="140.2" r="0.54" fill="#a01010" fill-opacity="0.22"/><circle cx="88.8" cy="78.1" r="0.61" fill="#a01010" fill-opacity="0.14"/><circle cx="67.6" cy="137.2" r="0.40" fill="#a01010" fill-opacity="0.14"/><circle cx="39.4" cy="106.9" r="0.43" fill="#a01010" fill-opacity="0.41"/><circle cx="186.3" cy="172.7" r="0.41" fill="#a01010" fill-opacity="0.15"/><circle cx="50.2" cy="98.8" r="0.58" fill="#a01010" fill-opacity="0.25"/><circle cx="74.0" cy="86.4" r="0.55" fill="#a01010" fill-opacity="0.32"/><circle cx="162.9" cy="151.4" r="0.57" fill="#a01010" fill-opacity="0.16"/><circle cx="179.0" cy="67.9" r="0.53" fill="#a01010" fill-opacity="0.23"/><circle cx="161.2" cy="53.6" r="0.40" fill="#a01010" fill-opacity="0.19"/><circle cx="60.0" cy="157.0" r="0.53" fill="#a01010" fill-opacity="0.22"/><circle cx="102.0" cy="173.4" r="0.50" fill="#a01010" fill-opacity="0.19"/><circle cx="173.4" cy="122.2" r="0.70" fill="#a01010" fill-opacity="0.15"/><circle cx="115.6" cy="147.2" r="0.64" fill="#a01010" fill-opacity="0.39"/><circle cx="40.5" cy="67.8" r="0.35" fill="#a01010" fill-opacity="0.18"/><circle cx="201.8" cy="111.6" r="0.67" fill="#a01010" fill-opacity="0.23"/><circle cx="183.3" cy="91.3" r="0.40" fill="#a01010" fill-opacity="0.35"/><circle cx="197.1" cy="39.5" r="0.54" fill="#a01010" fill-opacity="0.31"/><circle cx="71.2" cy="79.2" r="0.36" fill="#a01010" fill-opacity="0.18"/><circle cx="77.6" cy="114.0" r="0.56" fill="#a01010" fill-opacity="0.18"/><circle cx="35.5" cy="72.9" r="0.57" fill="#a01010" fill-opacity="0.18"/><circle cx="87.5" cy="54.2" r="0.62" fill="#a01010" fill-opacity="0.28"/><circle cx="44.4" cy="38.8" r="0.46" fill="#a01010" fill-opacity="0.29"/><circle cx="144.1" cy="37.3" r="0.37" fill="#a01010" fill-opacity="0.33"/><circle cx="104.4" cy="66.3" r="0.42" fill="#a01010" fill-opacity="0.41"/><circle cx="87.5" cy="109.0" r="0.44" fill="#a01010" fill-opacity="0.24"/><circle cx="183.0" cy="174.0" r="0.45" fill="#a01010" fill-opacity="0.18"/><circle cx="159.4" cy="54.3" r="0.30" fill="#a01010" fill-opacity="0.39"/><circle cx="106.8" cy="147.4" r="0.46" fill="#a01010" fill-opacity="0.38"/><circle cx="113.2" cy="48.0" r="0.31" fill="#a01010" fill-opacity="0.29"/><circle cx="144.3" cy="160.9" r="0.34" fill="#a01010" fill-opacity="0.31"/><circle cx="97.7" cy="99.7" r="0.36" fill="#a01010" fill-opacity="0.20"/><circle cx="123.7" cy="163.3" r="0.34" fill="#a01010" fill-opacity="0.27"/><circle cx="172.7" cy="169.5" r="0.38" fill="#a01010" fill-opacity="0.16"/><circle cx="196.7" cy="170.8" r="0.49" fill="#a01010" fill-opacity="0.14"/><circle cx="193.7" cy="82.1" r="0.66" fill="#a01010" fill-opacity="0.31"/><circle cx="176.1" cy="47.7" r="0.61" fill="#a01010" fill-opacity="0.19"/><circle cx="103.5" cy="151.3" r="0.63" fill="#a01010" fill-opacity="0.17"/><circle cx="71.2" cy="83.9" r="0.51" fill="#a01010" fill-opacity="0.24"/><circle cx="54.8" cy="60.8" r="0.59" fill="#a01010" fill-opacity="0.39"/><circle cx="40.6" cy="108.4" r="0.60" fill="#a01010" fill-opacity="0.13"/><circle cx="178.5" cy="41.3" r="0.54" fill="#a01010" fill-opacity="0.29"/><circle cx="142.0" cy="69.7" r="0.47" fill="#a01010" fill-opacity="0.29"/><circle cx="107.2" cy="123.0" r="0.48" fill="#a01010" fill-opacity="0.25"/><circle cx="37.5" cy="117.0" r="0.50" fill="#a01010" fill-opacity="0.19"/><circle cx="165.6" cy="141.3" r="0.48" fill="#a01010" fill-opacity="0.17"/><circle cx="115.4" cy="39.7" r="0.35" fill="#a01010" fill-opacity="0.25"/><circle cx="49.4" cy="90.2" r="0.50" fill="#a01010" fill-opacity="0.13"/><circle cx="143.6" cy="35.9" r="0.59" fill="#a01010" fill-opacity="0.35"/><circle cx="122.0" cy="31.7" r="0.50" fill="#a01010" fill-opacity="0.23"/><circle cx="198.0" cy="44.1" r="0.64" fill="#a01010" fill-opacity="0.42"/><circle cx="160.2" cy="146.6" r="0.38" fill="#a01010" fill-opacity="0.41"/><circle cx="118.6" cy="168.0" r="0.67" fill="#a01010" fill-opacity="0.17"/><circle cx="169.9" cy="164.0" r="0.33" fill="#a01010" fill-opacity="0.23"/><circle cx="164.3" cy="47.5" r="0.66" fill="#a01010" fill-opacity="0.20"/><circle cx="174.6" cy="45.2" r="0.50" fill="#a01010" fill-opacity="0.40"/><circle cx="69.5" cy="63.2" r="0.50" fill="#a01010" fill-opacity="0.22"/><circle cx="39.9" cy="51.0" r="0.36" fill="#a01010" fill-opacity="0.40"/><circle cx="151.1" cy="158.7" r="0.37" fill="#a01010" fill-opacity="0.36"/><circle cx="53.4" cy="103.6" r="0.55" fill="#a01010" fill-opacity="0.23"/><circle cx="184.5" cy="107.3" r="0.53" fill="#a01010" fill-opacity="0.38"/><circle cx="51.6" cy="173.4" r="0.55" fill="#a01010" fill-opacity="0.24"/><circle cx="171.5" cy="63.5" r="0.70" fill="#a01010" fill-opacity="0.29"/><circle cx="95.8" cy="139.0" r="0.48" fill="#a01010" fill-opacity="0.17"/><circle cx="162.1" cy="30.8" r="0.63" fill="#a01010" fill-opacity="0.20"/><circle cx="144.1" cy="172.1" r="0.53" fill="#a01010" fill-opacity="0.32"/><circle cx="87.6" cy="23.8" r="0.31" fill="#a01010" fill-opacity="0.16"/><circle cx="140.1" cy="88.8" r="0.51" fill="#a01010" fill-opacity="0.39"/><circle cx="56.3" cy="57.8" r="0.56" fill="#a01010" fill-opacity="0.13"/><circle cx="34.0" cy="77.1" r="0.34" fill="#a01010" fill-opacity="0.23"/><circle cx="72.3" cy="111.6" r="0.54" fill="#a01010" fill-opacity="0.18"/><circle cx="141.4" cy="95.2" r="0.35" fill="#a01010" fill-opacity="0.40"/><circle cx="75.6" cy="46.0" r="0.34" fill="#a01010" fill-opacity="0.31"/><circle cx="184.2" cy="141.6" r="0.46" fill="#a01010" fill-opacity="0.20"/><circle cx="35.5" cy="120.9" r="0.52" fill="#a01010" fill-opacity="0.23"/><circle cx="145.2" cy="90.5" r="0.67" fill="#a01010" fill-opacity="0.34"/><circle cx="76.5" cy="159.9" r="0.32" fill="#a01010" fill-opacity="0.28"/><circle cx="103.7" cy="59.4" r="0.32" fill="#a01010" fill-opacity="0.35"/><circle cx="35.6" cy="106.7" r="0.68" fill="#a01010" fill-opacity="0.16"/><circle cx="68.0" cy="115.3" r="0.50" fill="#a01010" fill-opacity="0.31"/><circle cx="174.2" cy="49.9" r="0.42" fill="#a01010" fill-opacity="0.21"/><circle cx="41.9" cy="157.8" r="0.61" fill="#a01010" fill-opacity="0.33"/><circle cx="34.6" cy="151.0" r="0.60" fill="#a01010" fill-opacity="0.26"/><circle cx="161.8" cy="91.8" r="0.39" fill="#a01010" fill-opacity="0.15"/><circle cx="73.7" cy="29.4" r="0.43" fill="#a01010" fill-opacity="0.34"/><circle cx="153.8" cy="151.1" r="0.58" fill="#a01010" fill-opacity="0.20"/><circle cx="129.3" cy="89.3" r="0.62" fill="#a01010" fill-opacity="0.28"/><circle cx="79.4" cy="120.4" r="0.69" fill="#a01010" fill-opacity="0.19"/><circle cx="185.7" cy="25.8" r="0.40" fill="#a01010" fill-opacity="0.19"/><circle cx="162.2" cy="166.1" r="0.60" fill="#a01010" fill-opacity="0.22"/><circle cx="185.8" cy="73.1" r="0.40" fill="#a01010" fill-opacity="0.39"/><circle cx="142.6" cy="128.1" r="0.57" fill="#a01010" fill-opacity="0.41"/><circle cx="114.7" cy="150.3" r="0.58" fill="#a01010" fill-opacity="0.38"/><circle cx="109.1" cy="132.9" r="0.53" fill="#a01010" fill-opacity="0.21"/><circle cx="70.2" cy="117.5" r="0.33" fill="#a01010" fill-opacity="0.39"/><circle cx="58.5" cy="27.6" r="0.34" fill="#a01010" fill-opacity="0.40"/><circle cx="93.2" cy="44.9" r="0.31" fill="#a01010" fill-opacity="0.13"/><circle cx="153.3" cy="119.2" r="0.58" fill="#a01010" fill-opacity="0.34"/><circle cx="44.9" cy="112.7" r="0.45" fill="#a01010" fill-opacity="0.37"/><circle cx="175.3" cy="158.1" r="0.33" fill="#a01010" fill-opacity="0.38"/><circle cx="191.7" cy="166.1" r="0.34" fill="#a01010" fill-opacity="0.18"/><circle cx="52.9" cy="28.7" r="0.64" fill="#a01010" fill-opacity="0.36"/><circle cx="143.2" cy="148.1" r="0.55" fill="#a01010" fill-opacity="0.21"/><circle cx="50.8" cy="38.3" r="0.60" fill="#a01010" fill-opacity="0.18"/><circle cx="88.7" cy="87.5" r="0.31" fill="#a01010" fill-opacity="0.20"/><circle cx="82.4" cy="131.6" r="0.45" fill="#a01010" fill-opacity="0.22"/><circle cx="200.3" cy="99.6" r="0.64" fill="#a01010" fill-opacity="0.31"/><circle cx="38.9" cy="85.9" r="0.47" fill="#a01010" fill-opacity="0.35"/><circle cx="93.5" cy="129.9" r="0.52" fill="#a01010" fill-opacity="0.18"/><circle cx="182.7" cy="37.2" r="0.63" fill="#a01010" fill-opacity="0.17"/><circle cx="33.7" cy="54.0" r="0.60" fill="#a01010" fill-opacity="0.41"/><circle cx="34.3" cy="97.6" r="0.50" fill="#a01010" fill-opacity="0.36"/><circle cx="65.4" cy="98.2" r="0.44" fill="#a01010" fill-opacity="0.37"/><circle cx="78.6" cy="166.0" r="0.41" fill="#a01010" fill-opacity="0.18"/><circle cx="154.5" cy="98.7" r="0.34" fill="#a01010" fill-opacity="0.31"/><circle cx="47.5" cy="142.5" r="0.58" fill="#a01010" fill-opacity="0.36"/><circle cx="142.1" cy="77.2" r="0.46" fill="#a01010" fill-opacity="0.24"/><circle cx="187.5" cy="36.5" r="0.66" fill="#a01010" fill-opacity="0.13"/><circle cx="69.2" cy="63.2" r="0.66" fill="#a01010" fill-opacity="0.27"/><circle cx="99.1" cy="157.0" r="0.39" fill="#a01010" fill-opacity="0.26"/><circle cx="125.5" cy="137.4" r="0.60" fill="#a01010" fill-opacity="0.31"/><circle cx="93.8" cy="72.8" r="0.36" fill="#a01010" fill-opacity="0.37"/><circle cx="148.0" cy="135.5" r="0.37" fill="#a01010" fill-opacity="0.25"/><circle cx="167.3" cy="111.0" r="0.35" fill="#a01010" fill-opacity="0.26"/><circle cx="186.6" cy="59.4" r="0.38" fill="#a01010" fill-opacity="0.21"/><circle cx="155.1" cy="150.9" r="0.36" fill="#a01010" fill-opacity="0.17"/><circle cx="76.3" cy="72.8" r="0.51" fill="#a01010" fill-opacity="0.17"/><circle cx="90.3" cy="52.1" r="0.69" fill="#a01010" fill-opacity="0.34"/><circle cx="51.1" cy="168.8" r="0.34" fill="#a01010" fill-opacity="0.24"/><circle cx="203.7" cy="143.5" r="0.59" fill="#a01010" fill-opacity="0.25"/><circle cx="67.4" cy="119.8" r="0.34" fill="#a01010" fill-opacity="0.18"/><circle cx="100.7" cy="28.6" r="0.46" fill="#a01010" fill-opacity="0.36"/><circle cx="153.5" cy="99.1" r="0.55" fill="#a01010" fill-opacity="0.26"/><circle cx="58.0" cy="114.7" r="0.46" fill="#a01010" fill-opacity="0.34"/><circle cx="190.6" cy="88.4" r="0.53" fill="#a01010" fill-opacity="0.34"/><circle cx="106.4" cy="58.0" r="0.59" fill="#a01010" fill-opacity="0.38"/><circle cx="167.4" cy="129.2" r="0.64" fill="#a01010" fill-opacity="0.32"/><circle cx="144.5" cy="92.0" r="0.43" fill="#a01010" fill-opacity="0.31"/><circle cx="50.4" cy="86.9" r="0.61" fill="#a01010" fill-opacity="0.33"/><circle cx="142.4" cy="61.3" r="0.47" fill="#a01010" fill-opacity="0.26"/><circle cx="141.0" cy="85.3" r="0.57" fill="#a01010" fill-opacity="0.40"/><circle cx="65.2" cy="122.3" r="0.61" fill="#a01010" fill-opacity="0.24"/><circle cx="118.2" cy="170.7" r="0.32" fill="#a01010" fill-opacity="0.28"/><circle cx="61.3" cy="141.6" r="0.68" fill="#a01010" fill-opacity="0.28"/><circle cx="51.0" cy="110.3" r="0.52" fill="#a01010" fill-opacity="0.34"/><circle cx="122.1" cy="120.0" r="0.63" fill="#a01010" fill-opacity="0.28"/><circle cx="104.5" cy="166.6" r="0.38" fill="#a01010" fill-opacity="0.33"/><circle cx="101.4" cy="138.7" r="0.35" fill="#a01010" fill-opacity="0.42"/><circle cx="95.0" cy="32.0" r="0.41" fill="#a01010" fill-opacity="0.24"/><circle cx="35.8" cy="86.7" r="0.47" fill="#a01010" fill-opacity="0.33"/><circle cx="94.4" cy="63.5" r="0.39" fill="#a01010" fill-opacity="0.34"/><circle cx="196.1" cy="103.1" r="0.39" fill="#a01010" fill-opacity="0.36"/><circle cx="101.3" cy="55.5" r="0.35" fill="#a01010" fill-opacity="0.35"/><circle cx="173.6" cy="119.3" r="0.49" fill="#a01010" fill-opacity="0.29"/><circle cx="72.6" cy="169.0" r="0.44" fill="#a01010" fill-opacity="0.31"/><circle cx="175.1" cy="146.7" r="0.49" fill="#a01010" fill-opacity="0.21"/><circle cx="128.4" cy="42.4" r="0.63" fill="#a01010" fill-opacity="0.23"/><circle cx="180.7" cy="63.9" r="0.45" fill="#a01010" fill-opacity="0.20"/><circle cx="107.2" cy="51.6" r="0.30" fill="#a01010" fill-opacity="0.34"/><circle cx="82.1" cy="60.5" r="0.42" fill="#a01010" fill-opacity="0.26"/><circle cx="107.6" cy="119.7" r="0.56" fill="#a01010" fill-opacity="0.23"/><circle cx="194.2" cy="152.5" r="0.32" fill="#a01010" fill-opacity="0.37"/><circle cx="190.2" cy="141.9" r="0.36" fill="#a01010" fill-opacity="0.37"/><circle cx="143.0" cy="25.8" r="0.30" fill="#a01010" fill-opacity="0.41"/><circle cx="147.0" cy="61.3" r="0.34" fill="#a01010" fill-opacity="0.16"/><circle cx="73.9" cy="140.7" r="0.44" fill="#a01010" fill-opacity="0.17"/><circle cx="189.9" cy="143.0" r="0.37" fill="#a01010" fill-opacity="0.39"/><circle cx="138.7" cy="141.5" r="0.57" fill="#a01010" fill-opacity="0.39"/><circle cx="169.8" cy="150.2" r="0.38" fill="#a01010" fill-opacity="0.33"/><circle cx="125.3" cy="135.5" r="0.48" fill="#a01010" fill-opacity="0.38"/><circle cx="129.5" cy="63.4" r="0.39" fill="#a01010" fill-opacity="0.16"/><circle cx="118.8" cy="32.3" r="0.49" fill="#a01010" fill-opacity="0.16"/><circle cx="118.5" cy="98.7" r="0.52" fill="#a01010" fill-opacity="0.38"/><circle cx="34.6" cy="150.5" r="0.49" fill="#a01010" fill-opacity="0.29"/><circle cx="148.6" cy="150.4" r="0.45" fill="#a01010" fill-opacity="0.25"/><circle cx="199.7" cy="34.9" r="0.55" fill="#a01010" fill-opacity="0.31"/><circle cx="38.4" cy="115.6" r="0.57" fill="#a01010" fill-opacity="0.40"/><circle cx="90.7" cy="171.7" r="0.50" fill="#a01010" fill-opacity="0.27"/><circle cx="188.8" cy="28.6" r="0.59" fill="#a01010" fill-opacity="0.31"/><circle cx="92.1" cy="153.6" r="0.45" fill="#a01010" fill-opacity="0.26"/><circle cx="124.4" cy="139.9" r="0.38" fill="#a01010" fill-opacity="0.25"/><circle cx="106.6" cy="107.2" r="0.63" fill="#a01010" fill-opacity="0.21"/><circle cx="176.7" cy="84.5" r="0.50" fill="#a01010" fill-opacity="0.20"/><circle cx="121.1" cy="170.7" r="0.56" fill="#a01010" fill-opacity="0.36"/><circle cx="90.7" cy="71.4" r="0.42" fill="#a01010" fill-opacity="0.30"/><circle cx="143.3" cy="141.9" r="0.32" fill="#a01010" fill-opacity="0.34"/><circle cx="186.7" cy="105.9" r="0.32" fill="#a01010" fill-opacity="0.21"/><circle cx="34.6" cy="52.2" r="0.67" fill="#a01010" fill-opacity="0.30"/><circle cx="147.3" cy="142.6" r="0.66" fill="#a01010" fill-opacity="0.30"/><circle cx="140.2" cy="118.1" r="0.58" fill="#a01010" fill-opacity="0.30"/><circle cx="151.3" cy="55.6" r="0.57" fill="#a01010" fill-opacity="0.26"/><circle cx="165.4" cy="38.8" r="0.37" fill="#a01010" fill-opacity="0.13"/><circle cx="167.5" cy="161.5" r="0.56" fill="#a01010" fill-opacity="0.23"/><circle cx="175.8" cy="142.3" r="0.52" fill="#a01010" fill-opacity="0.20"/><circle cx="85.8" cy="87.2" r="0.43" fill="#a01010" fill-opacity="0.25"/><circle cx="144.5" cy="164.5" r="0.32" fill="#a01010" fill-opacity="0.29"/><circle cx="40.3" cy="41.4" r="0.62" fill="#a01010" fill-opacity="0.29"/><circle cx="192.4" cy="90.9" r="0.31" fill="#a01010" fill-opacity="0.24"/><circle cx="135.9" cy="165.1" r="0.69" fill="#a01010" fill-opacity="0.26"/><circle cx="104.8" cy="38.9" r="0.56" fill="#a01010" fill-opacity="0.18"/><circle cx="59.8" cy="25.8" r="0.30" fill="#a01010" fill-opacity="0.33"/><circle cx="54.5" cy="169.4" r="0.34" fill="#a01010" fill-opacity="0.38"/><circle cx="55.8" cy="26.2" r="0.59" fill="#a01010" fill-opacity="0.19"/><circle cx="160.4" cy="51.8" r="0.32" fill="#a01010" fill-opacity="0.35"/><circle cx="156.9" cy="152.7" r="0.59" fill="#a01010" fill-opacity="0.15"/><circle cx="142.3" cy="130.6" r="0.48" fill="#a01010" fill-opacity="0.40"/><circle cx="77.5" cy="169.1" r="0.59" fill="#a01010" fill-opacity="0.12"/><circle cx="36.0" cy="121.8" r="0.63" fill="#a01010" fill-opacity="0.14"/><circle cx="87.3" cy="133.6" r="0.37" fill="#a01010" fill-opacity="0.38"/><circle cx="117.6" cy="32.5" r="0.45" fill="#a01010" fill-opacity="0.29"/><circle cx="109.4" cy="125.7" r="0.36" fill="#a01010" fill-opacity="0.36"/><circle cx="96.3" cy="120.9" r="0.55" fill="#a01010" fill-opacity="0.25"/><circle cx="100.2" cy="142.2" r="0.68" fill="#a01010" fill-opacity="0.36"/><circle cx="131.6" cy="67.7" r="0.32" fill="#a01010" fill-opacity="0.41"/><circle cx="155.2" cy="148.4" r="0.43" fill="#a01010" fill-opacity="0.30"/><circle cx="202.6" cy="149.0" r="0.54" fill="#a01010" fill-opacity="0.21"/><circle cx="107.6" cy="157.6" r="0.45" fill="#a01010" fill-opacity="0.33"/><circle cx="137.6" cy="158.8" r="0.62" fill="#a01010" fill-opacity="0.20"/><circle cx="33.8" cy="63.2" r="0.47" fill="#a01010" fill-opacity="0.30"/><circle cx="174.7" cy="157.5" r="0.32" fill="#a01010" fill-opacity="0.37"/>
<g fill="none" stroke="#8a0c0c" stroke-width="0.8" stroke-opacity="0.4" stroke-linecap="round" filter="url(#bl0)"><path d="M35.00,68.00 C36.67,67.67 42.17,66.50 45.00,66.00 C47.83,65.50 50.83,65.17 52.00,65.00"/><path d="M112.00,58.00 C112.67,56.67 115.00,52.67 116.00,50.00 C117.00,47.33 117.83,44.50 118.00,42.00 C118.17,39.50 117.17,36.17 117.00,35.00"/><path d="M60.00,35.00 C62.50,36.67 70.00,42.17 75.00,45.00 C80.00,47.83 87.50,50.83 90.00,52.00"/><path d="M150.00,118.00 C151.67,119.17 156.67,122.67 160.00,125.00 C163.33,127.33 168.33,130.83 170.00,132.00"/><path d="M175.00,150.00 C176.67,148.33 181.67,142.50 185.00,140.00 C188.33,137.50 193.33,135.83 195.00,135.00"/><path d="M40.00,100.00 L50.00,110.00"/><path d="M140.00,95.00 C141.67,95.83 146.67,98.83 150.00,100.00 C153.33,101.17 158.33,101.67 160.00,102.00"/><path d="M185.00,85.00 C186.67,85.83 191.67,88.83 195.00,90.00 C198.33,91.17 203.33,91.67 205.00,92.00"/><path d="M60.00,160.00 L70.00,150.00"/><path d="M120.00,145.00 C121.33,145.83 125.50,147.50 128.00,150.00 C130.50,152.50 133.83,158.33 135.00,160.00"/></g>
<g fill="none" stroke-linecap="round" stroke-linejoin="round" filter="url(#bl0)"><path d="M113.50,67.80 C114.25,67.33 116.52,65.97 118.00,65.00 C119.48,64.03 121.15,63.08 122.40,62.00 C123.65,60.92 124.62,59.67 125.50,58.50 C126.38,57.33 126.75,56.75 127.70,55.00 C128.65,53.25 129.75,50.33 131.20,48.00 C132.65,45.67 134.50,42.90 136.40,41.00 C138.30,39.10 140.40,37.77 142.60,36.60 C144.80,35.43 147.27,34.58 149.60,34.00 C151.93,33.42 154.70,33.10 156.60,33.10 C158.50,33.10 159.83,33.42 161.00,34.00 C162.17,34.58 162.58,36.75 163.60,36.60 C164.62,36.45 165.93,34.12 167.10,33.10 C168.27,32.08 169.15,31.17 170.60,30.50 C172.05,29.83 174.93,29.33 175.80,29.10" stroke="#f01810" stroke-width="1.1"/><path d="M125.00,58.50 C126.17,57.92 129.95,56.17 132.00,55.00 C134.05,53.83 135.98,52.67 137.30,51.50 C138.62,50.33 139.75,49.17 139.90,48.00 C140.05,46.83 138.48,45.08 138.20,44.50" stroke="#e81810" stroke-width="1.0"/><path d="M116.30,68.20 C118.05,68.33 123.60,68.27 126.80,69.00 C130.00,69.73 132.87,71.72 135.50,72.60 C138.13,73.48 139.97,74.30 142.60,74.30 C145.23,74.30 148.40,73.18 151.30,72.60 C154.20,72.02 157.08,71.83 160.00,70.80 C162.92,69.77 166.17,67.72 168.80,66.40 C171.43,65.08 173.17,63.48 175.80,62.90 C178.43,62.32 182.12,62.32 184.60,62.90 C187.08,63.48 189.68,65.82 190.70,66.40" stroke="#f01810" stroke-width="1.1"/><path d="M190.70,66.40 C192.02,65.97 196.12,64.82 198.60,63.80 C201.08,62.78 204.43,60.88 205.60,60.30" stroke="#901010" stroke-width="0.8"/><path d="M172.30,67.30 C171.43,68.75 169.15,73.82 167.10,76.00 C165.05,78.18 162.33,78.78 160.00,80.40 C157.67,82.02 154.25,84.82 153.10,85.70" stroke="#e01810" stroke-width="1.0"/><path d="M179.30,50.70 C180.77,49.97 184.88,47.77 188.10,46.30 C191.32,44.83 196.85,42.63 198.60,41.90" stroke="#c01510" stroke-width="0.9"/><path d="M107.50,74.30 C107.35,75.77 107.10,80.65 106.60,83.10 C106.10,85.55 105.43,86.93 104.50,89.00 C103.57,91.07 102.75,93.35 101.00,95.50 C99.25,97.65 95.17,100.83 94.00,101.90" stroke="#f01810" stroke-width="1.1"/><path d="M110.10,74.30 C110.55,76.35 111.92,82.80 112.80,86.60 C113.68,90.40 115.03,94.70 115.40,97.10 C115.77,99.50 115.37,99.27 115.00,101.00 C114.63,102.73 113.78,104.67 113.20,107.50 C112.62,110.33 112.37,114.50 111.50,118.00 C110.63,121.50 109.03,125.58 108.00,128.50 C106.97,131.42 106.33,132.58 105.30,135.50 C104.27,138.42 102.68,142.48 101.80,146.00 C100.92,149.52 100.58,153.67 100.00,156.60 C99.42,159.53 99.47,161.42 98.30,163.60 C97.13,165.78 94.75,168.25 93.00,169.70 C91.25,171.15 89.83,171.63 87.80,172.30 C85.77,172.97 82.77,173.08 80.80,173.70 C78.83,174.32 76.80,175.62 76.00,176.00" stroke="#f81a10" stroke-width="1.3"/><path d="M118.90,72.60 C119.33,73.17 121.35,74.25 121.50,76.00 C121.65,77.75 120.38,80.75 119.80,83.10 C119.22,85.45 118.63,88.12 118.00,90.10 C117.37,92.08 116.33,94.18 116.00,95.00" stroke="#e81810" stroke-width="1.1"/><path d="M125.00,72.60 C124.72,73.77 124.02,77.27 123.30,79.60 C122.58,81.93 121.13,85.43 120.70,86.60" stroke="#d81810" stroke-width="1.0"/><path d="M115.80,100.50 C116.40,101.38 118.08,104.05 119.40,105.80 C120.72,107.55 123.12,109.10 123.70,111.00 C124.28,112.90 123.92,115.58 122.90,117.20 C121.88,118.82 119.37,120.12 117.60,120.70 C115.83,121.28 113.18,120.70 112.30,120.70" stroke="#e01810" stroke-width="1.0"/><path d="M119.40,104.90 C120.57,104.60 124.52,103.83 126.40,103.10 C128.28,102.37 129.25,101.52 130.70,100.50 C132.15,99.48 134.37,97.58 135.10,97.00" stroke="#f01810" stroke-width="1.3"/><path d="M105.30,133.80 C104.13,134.23 100.92,135.38 98.30,136.40 C95.68,137.42 92.82,138.58 89.60,139.90 C86.38,141.22 82.22,143.13 79.00,144.30 C75.78,145.47 72.48,146.02 70.30,146.90 C68.12,147.78 66.63,149.15 65.90,149.60" stroke="#e81810" stroke-width="1.1"/><path d="M96.60,118.90 C95.43,119.20 91.93,119.82 89.60,120.70 C87.27,121.58 84.95,122.60 82.60,124.20 C80.25,125.80 77.85,128.27 75.50,130.30 C73.15,132.33 71.12,134.35 68.50,136.40 C65.88,138.45 62.42,140.70 59.80,142.60 C57.18,144.50 55.13,145.77 52.80,147.80 C50.47,149.83 47.85,152.47 45.80,154.80 C43.75,157.13 42.25,159.17 40.50,161.80 C38.75,164.43 36.55,168.57 35.30,170.60 C34.05,172.63 33.38,173.43 33.00,174.00" stroke="#d01510" stroke-width="0.9"/><path d="M79.90,167.10 C80.35,166.80 80.70,166.32 82.60,165.30 C84.50,164.28 89.85,161.72 91.30,161.00" stroke="#c01510" stroke-width="0.9"/></g>
<g filter="url(#bl0)"><circle cx="118.2" cy="65.2" r="0.86" fill="#f01810"/><circle cx="120.7" cy="63.0" r="0.91" fill="#f01810"/><circle cx="122.6" cy="62.3" r="0.66" fill="#f01810"/><circle cx="126.4" cy="56.6" r="0.89" fill="#f01810"/><circle cx="128.3" cy="53.4" r="0.90" fill="#f01810"/><circle cx="129.5" cy="51.7" r="0.95" fill="#f01810"/><circle cx="131.3" cy="47.8" r="0.64" fill="#f01810"/><circle cx="132.4" cy="46.5" r="0.80" fill="#f01810"/><circle cx="133.3" cy="45.0" r="0.57" fill="#f01810"/><circle cx="135.1" cy="42.5" r="0.90" fill="#f01810"/><circle cx="136.5" cy="40.9" r="0.78" fill="#f01810"/><circle cx="137.7" cy="40.2" r="0.94" fill="#f01810"/><circle cx="139.5" cy="38.7" r="0.90" fill="#f01810"/><circle cx="141.3" cy="37.9" r="0.92" fill="#f01810"/><circle cx="144.1" cy="35.8" r="0.63" fill="#f01810"/><circle cx="145.8" cy="35.3" r="0.94" fill="#f01810"/><circle cx="148.1" cy="34.9" r="0.58" fill="#f01810"/><circle cx="151.1" cy="34.1" r="0.67" fill="#f01810"/><circle cx="161.0" cy="33.8" r="0.98" fill="#f01810"/><circle cx="163.3" cy="36.5" r="0.71" fill="#f01810"/><circle cx="169.0" cy="31.9" r="0.84" fill="#f01810"/><circle cx="172.1" cy="30.2" r="0.97" fill="#f01810"/><circle cx="125.1" cy="58.7" r="0.60" fill="#e81810"/><circle cx="126.6" cy="57.4" r="0.77" fill="#e81810"/><circle cx="128.3" cy="56.5" r="0.85" fill="#e81810"/><circle cx="130.4" cy="55.7" r="0.57" fill="#e81810"/><circle cx="134.0" cy="54.1" r="0.95" fill="#e81810"/><circle cx="135.5" cy="52.4" r="0.97" fill="#e81810"/><circle cx="139.8" cy="48.2" r="0.76" fill="#e81810"/><circle cx="116.1" cy="67.9" r="0.87" fill="#f01810"/><circle cx="120.0" cy="68.3" r="0.74" fill="#f01810"/><circle cx="121.4" cy="68.8" r="0.70" fill="#f01810"/><circle cx="123.3" cy="68.6" r="0.96" fill="#f01810"/><circle cx="125.3" cy="68.6" r="0.95" fill="#f01810"/><circle cx="128.5" cy="69.6" r="0.67" fill="#f01810"/><circle cx="130.2" cy="70.7" r="1.00" fill="#f01810"/><circle cx="133.6" cy="72.1" r="0.58" fill="#f01810"/><circle cx="137.6" cy="72.7" r="0.91" fill="#f01810"/><circle cx="138.8" cy="73.2" r="0.92" fill="#f01810"/><circle cx="142.6" cy="74.5" r="0.65" fill="#f01810"/><circle cx="145.9" cy="73.8" r="0.87" fill="#f01810"/><circle cx="147.6" cy="73.0" r="0.82" fill="#f01810"/><circle cx="149.4" cy="72.8" r="0.83" fill="#f01810"/><circle cx="156.3" cy="71.7" r="0.73" fill="#f01810"/><circle cx="160.2" cy="70.7" r="0.93" fill="#f01810"/><circle cx="162.6" cy="69.6" r="0.76" fill="#f01810"/><circle cx="165.7" cy="68.1" r="0.72" fill="#f01810"/><circle cx="167.3" cy="67.2" r="0.55" fill="#f01810"/><circle cx="170.6" cy="65.3" r="0.87" fill="#f01810"/><circle cx="175.9" cy="62.8" r="0.89" fill="#f01810"/><circle cx="177.8" cy="63.2" r="0.77" fill="#f01810"/><circle cx="184.9" cy="62.7" r="0.63" fill="#f01810"/><circle cx="186.0" cy="64.0" r="0.56" fill="#f01810"/><circle cx="187.8" cy="64.5" r="0.56" fill="#f01810"/><circle cx="195.7" cy="65.0" r="0.57" fill="#901010"/><circle cx="197.0" cy="64.3" r="0.68" fill="#901010"/><circle cx="198.5" cy="63.6" r="0.82" fill="#901010"/><circle cx="202.1" cy="62.2" r="0.62" fill="#901010"/><circle cx="171.4" cy="69.0" r="0.79" fill="#e01810"/><circle cx="170.8" cy="70.4" r="0.70" fill="#e01810"/><circle cx="169.6" cy="71.6" r="0.99" fill="#e01810"/><circle cx="164.3" cy="78.0" r="0.97" fill="#e01810"/><circle cx="162.8" cy="78.7" r="0.71" fill="#e01810"/><circle cx="160.0" cy="80.4" r="0.56" fill="#e01810"/><circle cx="158.9" cy="81.6" r="0.97" fill="#e01810"/><circle cx="180.9" cy="49.8" r="0.86" fill="#c01510"/><circle cx="182.3" cy="49.5" r="0.83" fill="#c01510"/><circle cx="183.7" cy="48.5" r="0.98" fill="#c01510"/><circle cx="185.0" cy="47.9" r="0.60" fill="#c01510"/><circle cx="191.1" cy="45.1" r="0.62" fill="#c01510"/><circle cx="192.4" cy="44.3" r="0.73" fill="#c01510"/><circle cx="193.9" cy="43.5" r="0.80" fill="#c01510"/><circle cx="107.3" cy="77.8" r="0.80" fill="#f01810"/><circle cx="106.7" cy="81.2" r="0.65" fill="#f01810"/><circle cx="106.0" cy="84.8" r="0.71" fill="#f01810"/><circle cx="104.5" cy="89.0" r="0.68" fill="#f01810"/><circle cx="102.9" cy="92.0" r="0.58" fill="#f01810"/><circle cx="100.7" cy="95.4" r="0.75" fill="#f01810"/><circle cx="98.0" cy="98.3" r="0.88" fill="#f01810"/><circle cx="96.7" cy="99.3" r="0.85" fill="#f01810"/><circle cx="112.6" cy="85.0" r="0.96" fill="#f81a10"/><circle cx="113.0" cy="86.3" r="0.89" fill="#f81a10"/><circle cx="113.9" cy="90.1" r="0.74" fill="#f81a10"/><circle cx="115.4" cy="97.1" r="0.88" fill="#f81a10"/><circle cx="115.1" cy="99.1" r="0.72" fill="#f81a10"/><circle cx="115.2" cy="101.2" r="0.77" fill="#f81a10"/><circle cx="114.4" cy="102.5" r="0.62" fill="#f81a10"/><circle cx="113.5" cy="107.4" r="0.93" fill="#f81a10"/><circle cx="112.3" cy="113.0" r="0.55" fill="#f81a10"/><circle cx="112.1" cy="114.5" r="0.96" fill="#f81a10"/><circle cx="108.5" cy="126.8" r="0.71" fill="#f81a10"/><circle cx="105.9" cy="133.7" r="0.80" fill="#f81a10"/><circle cx="103.5" cy="140.8" r="1.00" fill="#f81a10"/><circle cx="103.0" cy="142.7" r="0.63" fill="#f81a10"/><circle cx="102.7" cy="144.4" r="0.78" fill="#f81a10"/><circle cx="102.0" cy="146.1" r="0.92" fill="#f81a10"/><circle cx="100.7" cy="151.2" r="0.78" fill="#f81a10"/><circle cx="100.1" cy="154.9" r="0.82" fill="#f81a10"/><circle cx="100.3" cy="156.7" r="0.57" fill="#f81a10"/><circle cx="99.7" cy="158.2" r="0.86" fill="#f81a10"/><circle cx="99.0" cy="160.3" r="0.81" fill="#f81a10"/><circle cx="98.3" cy="163.6" r="0.67" fill="#f81a10"/><circle cx="92.8" cy="169.5" r="0.89" fill="#f81a10"/><circle cx="91.0" cy="170.4" r="0.79" fill="#f81a10"/><circle cx="84.0" cy="173.2" r="0.70" fill="#f81a10"/><circle cx="80.6" cy="173.6" r="0.59" fill="#f81a10"/><circle cx="118.9" cy="72.5" r="0.57" fill="#e81810"/><circle cx="120.7" cy="79.4" r="0.57" fill="#e81810"/><circle cx="119.6" cy="85.0" r="0.69" fill="#e81810"/><circle cx="118.3" cy="89.9" r="0.73" fill="#e81810"/><circle cx="116.6" cy="93.6" r="0.77" fill="#e81810"/><circle cx="124.4" cy="74.3" r="0.63" fill="#d81810"/><circle cx="123.8" cy="77.6" r="0.79" fill="#d81810"/><circle cx="123.2" cy="79.3" r="0.61" fill="#d81810"/><circle cx="121.8" cy="82.9" r="0.68" fill="#d81810"/><circle cx="121.1" cy="84.9" r="0.70" fill="#d81810"/><circle cx="115.9" cy="100.3" r="0.67" fill="#e01810"/><circle cx="117.6" cy="103.4" r="0.91" fill="#e01810"/><circle cx="118.4" cy="104.6" r="0.72" fill="#e01810"/><circle cx="120.7" cy="107.1" r="0.65" fill="#e01810"/><circle cx="121.3" cy="108.5" r="0.67" fill="#e01810"/><circle cx="123.3" cy="113.1" r="0.65" fill="#e01810"/><circle cx="122.9" cy="117.2" r="0.67" fill="#e01810"/><circle cx="119.5" cy="119.6" r="0.69" fill="#e01810"/><circle cx="117.4" cy="120.5" r="0.93" fill="#e01810"/><circle cx="115.9" cy="120.5" r="0.80" fill="#e01810"/><circle cx="114.1" cy="120.6" r="0.58" fill="#e01810"/><circle cx="119.2" cy="104.7" r="0.87" fill="#f01810"/><circle cx="121.1" cy="104.7" r="0.90" fill="#f01810"/><circle cx="126.3" cy="102.8" r="0.86" fill="#f01810"/><circle cx="129.2" cy="101.5" r="0.86" fill="#f01810"/><circle cx="130.9" cy="100.4" r="0.83" fill="#f01810"/><circle cx="131.9" cy="99.6" r="0.88" fill="#f01810"/><circle cx="105.0" cy="133.6" r="0.64" fill="#e81810"/><circle cx="103.5" cy="134.2" r="0.69" fill="#e81810"/><circle cx="100.3" cy="135.8" r="0.87" fill="#e81810"/><circle cx="98.3" cy="136.5" r="0.71" fill="#e81810"/><circle cx="96.8" cy="137.3" r="0.68" fill="#e81810"/><circle cx="95.0" cy="137.9" r="0.57" fill="#e81810"/><circle cx="92.8" cy="138.7" r="0.64" fill="#e81810"/><circle cx="88.2" cy="140.5" r="0.89" fill="#e81810"/><circle cx="84.8" cy="142.1" r="0.74" fill="#e81810"/><circle cx="75.3" cy="145.5" r="0.74" fill="#e81810"/><circle cx="70.5" cy="146.6" r="0.87" fill="#e81810"/><circle cx="67.4" cy="149.0" r="0.84" fill="#e81810"/><circle cx="94.6" cy="119.3" r="0.74" fill="#d01510"/><circle cx="93.0" cy="119.6" r="0.87" fill="#d01510"/><circle cx="89.4" cy="120.7" r="0.75" fill="#d01510"/><circle cx="86.0" cy="122.7" r="0.61" fill="#d01510"/><circle cx="82.8" cy="124.2" r="0.89" fill="#d01510"/><circle cx="81.3" cy="125.5" r="0.76" fill="#d01510"/><circle cx="76.8" cy="129.0" r="0.64" fill="#d01510"/><circle cx="75.4" cy="130.1" r="0.87" fill="#d01510"/><circle cx="73.9" cy="131.4" r="0.76" fill="#d01510"/><circle cx="72.5" cy="132.5" r="0.55" fill="#d01510"/><circle cx="68.6" cy="136.7" r="0.80" fill="#d01510"/><circle cx="67.0" cy="137.4" r="0.64" fill="#d01510"/><circle cx="64.4" cy="139.6" r="0.83" fill="#d01510"/><circle cx="59.6" cy="142.4" r="0.56" fill="#d01510"/><circle cx="55.4" cy="145.8" r="0.93" fill="#d01510"/><circle cx="53.0" cy="148.0" r="0.88" fill="#d01510"/><circle cx="51.4" cy="149.2" r="0.69" fill="#d01510"/><circle cx="50.5" cy="150.1" r="0.92" fill="#d01510"/><circle cx="49.0" cy="151.3" r="0.83" fill="#d01510"/><circle cx="43.7" cy="157.4" r="0.68" fill="#d01510"/><circle cx="41.7" cy="160.2" r="0.75" fill="#d01510"/><circle cx="39.4" cy="163.2" r="0.64" fill="#d01510"/><circle cx="38.1" cy="166.4" r="0.90" fill="#d01510"/><circle cx="36.9" cy="167.8" r="0.78" fill="#d01510"/><circle cx="36.1" cy="169.1" r="0.85" fill="#d01510"/><circle cx="79.8" cy="167.1" r="0.80" fill="#c01510"/><circle cx="81.1" cy="166.0" r="0.70" fill="#c01510"/><circle cx="82.9" cy="165.5" r="0.94" fill="#c01510"/><circle cx="90.0" cy="161.8" r="0.68" fill="#c01510"/></g>
<path d="M106,66.5 C107.5,64 111.5,63.5 114.5,65 C116.5,65.8 118,66.5 119,67.3 C117.5,69 116.5,71 114.5,72.8 C112.5,74.8 109,75.2 107,73.5 C105.3,71.7 105,68.5 106,66.5 Z" fill="#ff1a12" filter="url(#bl0)"/>
<path d="M109.5,108 L109.7,118" stroke="#a01010" stroke-width="0.9" fill="none"/>
<path d="M108.8,146 L109.7,160" stroke="#b01010" stroke-width="1" fill="none" filter="url(#bl0)"/>
</g>
<rect x="179.8" y="152.5" width="24" height="20" fill="#000"/>
<rect x="181" y="168.6" width="21.5" height="2.5" fill="#fff"/>
<text x="190.5" y="163.3" font-size="5.6" font-weight="bold" fill="#fff" text-anchor="middle">25 µm</text>
<text x="311.60" y="61.40" font-size="16.0" font-weight="bold" text-anchor="middle" fill="#000" >Home cage</text>
<text x="431.20" y="61.40" font-size="16.3" font-weight="bold" text-anchor="middle" fill="#000" >Re-exposure</text>
<rect x="260" y="76.8" width="107.2" height="40.4" fill="#1a0203"/>
<g clip-path="url(#cH1)">
<g filter="url(#bl2)"><circle cx="321.1" cy="115.1" r="1.86" fill="#6a0808" fill-opacity="0.46"/><circle cx="292.0" cy="90.7" r="2.75" fill="#6a0808" fill-opacity="0.21"/><circle cx="280.2" cy="104.1" r="1.78" fill="#6a0808" fill-opacity="0.23"/><circle cx="330.7" cy="91.9" r="2.08" fill="#6a0808" fill-opacity="0.37"/><circle cx="316.7" cy="99.6" r="1.67" fill="#6a0808" fill-opacity="0.25"/><circle cx="279.3" cy="112.6" r="2.01" fill="#6a0808" fill-opacity="0.24"/><circle cx="352.3" cy="87.1" r="1.01" fill="#6a0808" fill-opacity="0.41"/><circle cx="286.9" cy="96.6" r="2.02" fill="#6a0808" fill-opacity="0.29"/><circle cx="321.3" cy="81.5" r="1.93" fill="#6a0808" fill-opacity="0.44"/><circle cx="268.6" cy="93.3" r="0.96" fill="#6a0808" fill-opacity="0.38"/><circle cx="352.4" cy="99.0" r="2.37" fill="#6a0808" fill-opacity="0.50"/><circle cx="272.3" cy="116.6" r="2.39" fill="#6a0808" fill-opacity="0.24"/><circle cx="348.8" cy="92.7" r="1.18" fill="#6a0808" fill-opacity="0.58"/><circle cx="320.2" cy="108.0" r="1.10" fill="#6a0808" fill-opacity="0.51"/><circle cx="266.2" cy="86.5" r="1.62" fill="#6a0808" fill-opacity="0.21"/><circle cx="323.6" cy="85.5" r="1.46" fill="#6a0808" fill-opacity="0.48"/><circle cx="305.6" cy="112.5" r="2.17" fill="#6a0808" fill-opacity="0.55"/><circle cx="320.2" cy="113.7" r="2.72" fill="#6a0808" fill-opacity="0.27"/><circle cx="339.8" cy="90.7" r="2.48" fill="#6a0808" fill-opacity="0.47"/><circle cx="348.3" cy="81.9" r="1.62" fill="#6a0808" fill-opacity="0.49"/><circle cx="361.4" cy="105.9" r="0.90" fill="#6a0808" fill-opacity="0.44"/><circle cx="270.7" cy="99.0" r="2.57" fill="#6a0808" fill-opacity="0.25"/><circle cx="359.0" cy="104.0" r="1.36" fill="#6a0808" fill-opacity="0.28"/><circle cx="307.8" cy="110.5" r="2.08" fill="#6a0808" fill-opacity="0.25"/><circle cx="262.2" cy="81.4" r="2.56" fill="#6a0808" fill-opacity="0.27"/><circle cx="319.3" cy="88.6" r="2.31" fill="#6a0808" fill-opacity="0.35"/><circle cx="275.4" cy="112.0" r="1.98" fill="#6a0808" fill-opacity="0.48"/><circle cx="346.5" cy="115.0" r="0.83" fill="#6a0808" fill-opacity="0.34"/><circle cx="276.1" cy="97.1" r="2.72" fill="#6a0808" fill-opacity="0.52"/><circle cx="263.8" cy="84.3" r="2.60" fill="#6a0808" fill-opacity="0.47"/><circle cx="302.0" cy="96.0" r="1.15" fill="#6a0808" fill-opacity="0.54"/><circle cx="302.1" cy="111.9" r="2.14" fill="#6a0808" fill-opacity="0.23"/><circle cx="295.2" cy="85.7" r="2.77" fill="#6a0808" fill-opacity="0.44"/><circle cx="264.7" cy="83.8" r="1.59" fill="#6a0808" fill-opacity="0.39"/><circle cx="321.7" cy="92.5" r="1.58" fill="#6a0808" fill-opacity="0.20"/><circle cx="322.0" cy="90.4" r="0.85" fill="#6a0808" fill-opacity="0.38"/><circle cx="365.5" cy="78.8" r="1.12" fill="#6a0808" fill-opacity="0.47"/><circle cx="289.2" cy="87.9" r="1.90" fill="#6a0808" fill-opacity="0.30"/><circle cx="320.9" cy="98.1" r="2.91" fill="#6a0808" fill-opacity="0.60"/><circle cx="263.6" cy="99.4" r="2.50" fill="#6a0808" fill-opacity="0.55"/></g>
<g fill="#ff1c10" filter="url(#bl2)"><circle cx="256.0" cy="106.1" r="3.65"/><circle cx="257.0" cy="105.7" r="3.50"/><circle cx="258.0" cy="105.9" r="3.11"/><circle cx="259.0" cy="105.8" r="3.76"/><circle cx="260.0" cy="105.0" r="3.55"/><circle cx="261.0" cy="105.2" r="3.64"/><circle cx="262.0" cy="104.9" r="3.36"/><circle cx="263.0" cy="104.6" r="3.19"/><circle cx="264.0" cy="103.8" r="3.25"/><circle cx="265.0" cy="103.8" r="3.17"/><circle cx="266.0" cy="103.7" r="3.89"/><circle cx="267.0" cy="103.2" r="3.20"/><circle cx="268.0" cy="103.0" r="3.06"/><circle cx="268.9" cy="102.4" r="2.95"/><circle cx="269.8" cy="102.6" r="3.76"/><circle cx="270.8" cy="102.4" r="3.29"/><circle cx="271.7" cy="101.7" r="3.13"/><circle cx="272.6" cy="101.5" r="2.87"/><circle cx="273.5" cy="101.6" r="3.14"/><circle cx="274.5" cy="101.5" r="3.41"/><circle cx="275.4" cy="101.2" r="3.17"/><circle cx="276.3" cy="100.1" r="3.44"/><circle cx="277.2" cy="100.2" r="3.00"/><circle cx="278.0" cy="99.7" r="3.89"/><circle cx="278.9" cy="99.4" r="3.65"/><circle cx="279.7" cy="98.7" r="3.76"/><circle cx="280.6" cy="99.2" r="3.33"/><circle cx="281.4" cy="98.3" r="3.10"/><circle cx="282.3" cy="97.8" r="2.83"/><circle cx="283.1" cy="98.0" r="3.09"/><circle cx="284.0" cy="97.4" r="3.04"/><circle cx="284.9" cy="97.2" r="3.02"/><circle cx="285.7" cy="96.9" r="3.75"/><circle cx="286.6" cy="96.7" r="3.02"/><circle cx="287.4" cy="96.2" r="3.86"/><circle cx="288.3" cy="96.0" r="2.89"/><circle cx="289.1" cy="95.2" r="3.76"/><circle cx="290.0" cy="94.7" r="2.95"/><circle cx="290.9" cy="95.0" r="3.39"/><circle cx="291.8" cy="94.7" r="3.50"/><circle cx="292.7" cy="93.7" r="3.03"/><circle cx="293.6" cy="93.7" r="3.62"/><circle cx="294.5" cy="93.4" r="3.25"/><circle cx="295.5" cy="92.4" r="3.17"/><circle cx="296.4" cy="92.0" r="3.26"/><circle cx="297.3" cy="91.9" r="3.49"/><circle cx="298.2" cy="91.8" r="3.34"/><circle cx="299.1" cy="91.3" r="3.08"/><circle cx="300.0" cy="91.4" r="2.41"/><circle cx="300.9" cy="91.2" r="3.02"/><circle cx="301.8" cy="90.6" r="2.46"/><circle cx="302.7" cy="90.1" r="3.20"/><circle cx="303.6" cy="89.6" r="2.50"/><circle cx="304.5" cy="90.0" r="2.56"/><circle cx="305.5" cy="89.8" r="2.50"/><circle cx="306.4" cy="89.3" r="2.87"/><circle cx="307.3" cy="89.0" r="3.05"/><circle cx="308.2" cy="88.8" r="3.12"/><circle cx="309.1" cy="88.7" r="2.76"/><circle cx="310.0" cy="88.4" r="2.68"/><circle cx="310.9" cy="88.2" r="3.24"/><circle cx="311.8" cy="87.8" r="2.74"/><circle cx="312.6" cy="87.2" r="3.48"/><circle cx="313.5" cy="87.0" r="2.71"/><circle cx="314.4" cy="86.3" r="3.44"/><circle cx="315.2" cy="86.3" r="2.41"/><circle cx="316.1" cy="86.3" r="3.12"/><circle cx="317.0" cy="86.2" r="2.80"/><circle cx="318.0" cy="85.9" r="2.65"/><circle cx="319.0" cy="85.1" r="2.50"/><circle cx="320.0" cy="85.1" r="2.55"/><circle cx="321.0" cy="85.6" r="2.95"/><circle cx="321.9" cy="86.4" r="2.60"/><circle cx="322.7" cy="86.1" r="2.80"/><circle cx="323.6" cy="87.2" r="2.60"/><circle cx="324.4" cy="87.2" r="3.41"/><circle cx="325.3" cy="88.3" r="1.93"/><circle cx="326.1" cy="89.0" r="2.17"/><circle cx="327.0" cy="89.1" r="2.45"/><circle cx="328.0" cy="89.5" r="2.28"/><circle cx="328.9" cy="89.2" r="2.41"/><circle cx="329.9" cy="89.2" r="2.89"/><circle cx="330.8" cy="89.4" r="2.71"/><circle cx="331.8" cy="89.9" r="2.61"/><circle cx="332.7" cy="89.8" r="2.85"/><circle cx="333.7" cy="90.3" r="2.52"/><circle cx="334.6" cy="91.0" r="2.91"/><circle cx="335.6" cy="90.5" r="2.59"/><circle cx="336.5" cy="90.8" r="2.18"/><circle cx="337.5" cy="91.1" r="2.38"/><circle cx="338.4" cy="91.9" r="2.12"/><circle cx="339.3" cy="91.7" r="2.61"/><circle cx="340.3" cy="91.9" r="2.99"/><circle cx="341.2" cy="92.1" r="2.53"/><circle cx="342.1" cy="93.1" r="2.85"/><circle cx="343.1" cy="93.3" r="2.19"/><circle cx="344.0" cy="93.1" r="2.81"/><circle cx="344.9" cy="93.6" r="2.26"/><circle cx="345.9" cy="93.5" r="2.88"/><circle cx="346.8" cy="94.3" r="2.65"/><circle cx="347.8" cy="94.5" r="2.40"/><circle cx="348.7" cy="94.5" r="2.87"/><circle cx="349.7" cy="94.9" r="2.87"/><circle cx="350.6" cy="95.7" r="2.76"/><circle cx="351.6" cy="96.0" r="2.10"/><circle cx="352.5" cy="95.7" r="2.99"/><circle cx="353.4" cy="95.9" r="1.93"/><circle cx="354.2" cy="96.2" r="2.97"/><circle cx="355.1" cy="96.8" r="2.90"/><circle cx="355.9" cy="97.2" r="2.71"/><circle cx="356.8" cy="98.2" r="2.09"/><circle cx="357.6" cy="98.2" r="2.00"/><circle cx="320.4" cy="83.3" r="2.6"/><circle cx="345.8" cy="101.5" r="2.3"/><circle cx="344.5" cy="98.5" r="2.0"/><circle cx="299.7" cy="82.8" r="1.5"/><circle cx="263.5" cy="109.6" r="2.3"/><circle cx="285.6" cy="104" r="1.7"/><circle cx="358" cy="98.5" r="3.0"/><circle cx="355" cy="97" r="2.8"/><circle cx="306" cy="86.5" r="1.8"/><circle cx="292" cy="99" r="1.6"/><circle cx="272" cy="106" r="1.6"/></g>
<circle cx="322" cy="110" r="2" fill="#801010" filter="url(#bl2)"/>
</g>
<rect x="261" y="122" width="106.8" height="41" fill="#000"/>
<g clip-path="url(#cH2)">
<path d="M258,150.5 C275,146 295,139 315,131.3 C330,133 348,138 362,142.5" fill="none" stroke="#c834d6" stroke-width="4.2" stroke-linecap="round" filter="url(#bl1)"/>
<path d="M258,150 C275,145.5 295,138.5 315,130.8 C330,132.5 348,137.5 362,142" fill="none" stroke="#e878f8" stroke-width="1.2" stroke-linecap="round" stroke-opacity="0.7" filter="url(#bl1)"/>
<g filter="url(#bl1)"><circle cx="316" cy="130.3" r="1.3" fill="#30e030"/><circle cx="337" cy="137.5" r="1.6" fill="#30e030"/><circle cx="335" cy="136.5" r="1.3" fill="#30e030"/><circle cx="272" cy="148" r="0.7" fill="#30e030"/><circle cx="284" cy="144" r="0.7" fill="#30e030"/><circle cx="303" cy="139" r="0.7" fill="#30e030"/><circle cx="292" cy="142.5" r="0.6" fill="#30e030"/><circle cx="351" cy="140.5" r="1.0" fill="#30e030"/><circle cx="263" cy="150" r="0.6" fill="#30e030"/><circle cx="320" cy="128.5" r="1.3" fill="#2030ff"/><circle cx="266" cy="155" r="1.4" fill="#2030ff"/><circle cx="286" cy="150.5" r="1.1" fill="#2030ff"/><circle cx="348" cy="146" r="1.4" fill="#2030ff"/><circle cx="349" cy="143.5" r="1.0" fill="#2030ff"/><circle cx="300" cy="133.5" r="0.9" fill="#e02020"/><circle cx="301" cy="128" r="0.5" fill="#e02020"/><circle cx="340" cy="142" r="0.5" fill="#e02020"/></g>
<rect x="338.5" y="158.4" width="17.5" height="2.4" fill="#fff"/>
<text x="346.5" y="156.6" font-size="4.8" fill="#fff" text-anchor="middle">5 µm</text>
</g>
<rect x="381.4" y="76.9" width="97.5" height="39.7" fill="#120102"/>
<g clip-path="url(#cR1)">
<g filter="url(#bl2)"><circle cx="471.0" cy="105.7" r="1.73" fill="#5a0606" fill-opacity="0.59"/><circle cx="384.2" cy="86.4" r="1.61" fill="#5a0606" fill-opacity="0.48"/><circle cx="384.7" cy="97.2" r="0.82" fill="#5a0606" fill-opacity="0.37"/><circle cx="391.3" cy="77.8" r="1.89" fill="#5a0606" fill-opacity="0.33"/><circle cx="467.1" cy="81.8" r="1.18" fill="#5a0606" fill-opacity="0.25"/><circle cx="423.0" cy="84.2" r="1.46" fill="#5a0606" fill-opacity="0.26"/><circle cx="453.3" cy="97.0" r="0.66" fill="#5a0606" fill-opacity="0.34"/><circle cx="429.6" cy="113.7" r="0.99" fill="#5a0606" fill-opacity="0.29"/><circle cx="475.8" cy="112.3" r="1.52" fill="#5a0606" fill-opacity="0.31"/><circle cx="398.4" cy="87.6" r="0.60" fill="#5a0606" fill-opacity="0.22"/><circle cx="430.9" cy="93.3" r="1.28" fill="#5a0606" fill-opacity="0.35"/><circle cx="382.0" cy="104.5" r="1.41" fill="#5a0606" fill-opacity="0.42"/><circle cx="434.8" cy="104.6" r="1.88" fill="#5a0606" fill-opacity="0.55"/><circle cx="451.3" cy="93.0" r="0.95" fill="#5a0606" fill-opacity="0.37"/><circle cx="476.3" cy="92.5" r="1.04" fill="#5a0606" fill-opacity="0.36"/><circle cx="395.0" cy="116.9" r="0.51" fill="#5a0606" fill-opacity="0.44"/><circle cx="471.8" cy="87.2" r="1.36" fill="#5a0606" fill-opacity="0.35"/><circle cx="404.6" cy="84.9" r="0.66" fill="#5a0606" fill-opacity="0.54"/><circle cx="457.8" cy="113.3" r="0.57" fill="#5a0606" fill-opacity="0.48"/><circle cx="412.8" cy="102.8" r="1.27" fill="#5a0606" fill-opacity="0.33"/><circle cx="476.2" cy="77.0" r="1.54" fill="#5a0606" fill-opacity="0.54"/><circle cx="431.0" cy="100.7" r="1.89" fill="#5a0606" fill-opacity="0.29"/><circle cx="442.7" cy="106.7" r="1.03" fill="#5a0606" fill-opacity="0.48"/><circle cx="419.6" cy="98.1" r="1.36" fill="#5a0606" fill-opacity="0.47"/><circle cx="412.6" cy="102.2" r="1.26" fill="#5a0606" fill-opacity="0.29"/><circle cx="441.0" cy="87.6" r="1.77" fill="#5a0606" fill-opacity="0.39"/><circle cx="451.7" cy="97.9" r="1.17" fill="#5a0606" fill-opacity="0.29"/><circle cx="394.9" cy="114.1" r="1.24" fill="#5a0606" fill-opacity="0.41"/><circle cx="432.7" cy="109.5" r="0.83" fill="#5a0606" fill-opacity="0.27"/><circle cx="461.5" cy="95.4" r="1.40" fill="#5a0606" fill-opacity="0.53"/><circle cx="468.6" cy="111.7" r="0.56" fill="#5a0606" fill-opacity="0.35"/><circle cx="462.5" cy="109.7" r="0.67" fill="#5a0606" fill-opacity="0.26"/><circle cx="405.6" cy="81.1" r="1.00" fill="#5a0606" fill-opacity="0.52"/><circle cx="432.1" cy="95.1" r="0.62" fill="#5a0606" fill-opacity="0.36"/><circle cx="478.7" cy="104.8" r="1.13" fill="#5a0606" fill-opacity="0.39"/><circle cx="459.2" cy="107.4" r="0.71" fill="#5a0606" fill-opacity="0.47"/><circle cx="417.0" cy="97.8" r="0.83" fill="#5a0606" fill-opacity="0.35"/><circle cx="414.3" cy="92.2" r="0.52" fill="#5a0606" fill-opacity="0.28"/><circle cx="436.9" cy="79.3" r="0.75" fill="#5a0606" fill-opacity="0.49"/><circle cx="407.9" cy="90.0" r="0.84" fill="#5a0606" fill-opacity="0.53"/></g>
<filter id="bl15" x="-20%" y="-20%" width="140%" height="140%"><feGaussianBlur stdDeviation="0.65"/></filter>
<g stroke="#e81a10" stroke-width="1.4" stroke-linecap="round" stroke-opacity="0.9" filter="url(#bl15)"><path d="M388.8,82.3 l1.5,-2.2"/><path d="M389.8,83.0 l1.0,-1.6"/><path d="M390.8,83.7 l-1.8,2.4"/><path d="M391.7,84.3 l1.6,-2.5"/><path d="M392.7,85.0 l1.5,-2.5"/><path d="M393.7,85.7 l-1.3,2.0"/><path d="M394.7,86.3 l-1.4,1.9"/><path d="M395.6,87.0 l1.6,-2.9"/><path d="M396.6,87.7 l-1.1,1.5"/><path d="M397.7,88.3 l0.7,-1.5"/><path d="M398.8,88.8 l-1.2,2.4"/><path d="M399.9,89.4 l0.9,-1.5"/><path d="M401.0,89.9 l-1.5,2.7"/><path d="M402.1,90.5 l-1.4,1.7"/><path d="M403.2,91.0 l-1.2,2.3"/><path d="M404.3,91.6 l1.2,-2.8"/><path d="M405.5,92.0 l-0.3,2.6"/><path d="M406.6,92.4 l-0.5,2.6"/><path d="M407.8,92.8 l-0.9,1.7"/><path d="M409.0,93.2 l0.3,-2.6"/><path d="M410.1,93.5 l-0.2,1.6"/><path d="M411.3,93.9 l-0.3,1.5"/><path d="M412.4,94.3 l-1.3,2.4"/><path d="M413.6,94.7 l-1.2,3.3"/><path d="M414.8,95.0 l-0.3,3.2"/><path d="M415.9,95.3 l0.2,-2.1"/><path d="M417.1,95.6 l0.5,-1.9"/><path d="M418.2,95.8 l-0.5,1.6"/><path d="M419.4,96.1 l-0.6,2.6"/><path d="M420.6,96.4 l-1.0,2.9"/><path d="M421.7,96.7 l1.2,-3.3"/><path d="M422.9,97.0 l-1.0,2.1"/><path d="M424.1,97.3 l0.5,-2.6"/><path d="M425.2,97.6 l-0.5,2.9"/><path d="M426.4,97.9 l0.9,-2.2"/><path d="M427.5,98.2 l0.8,-2.4"/><path d="M428.7,98.4 l0.2,-3.0"/><path d="M429.9,98.7 l0.7,-2.3"/><path d="M431.0,99.0 l-0.7,1.5"/><path d="M432.2,99.3 l0.0,2.1"/><path d="M433.3,99.4 l0.0,2.4"/><path d="M434.4,99.5 l-0.2,-3.4"/><path d="M435.5,99.6 l-0.8,3.4"/><path d="M436.6,99.8 l-0.2,-3.4"/><path d="M437.7,99.9 l0.3,1.9"/><path d="M438.8,100.0 l0.5,-2.6"/><path d="M439.9,100.1 l0.4,3.2"/><path d="M441.0,100.0 l0.3,-1.8"/><path d="M442.1,99.9 l-0.3,-2.6"/><path d="M443.2,99.8 l0.2,-3.2"/><path d="M444.3,99.6 l0.6,2.0"/><path d="M445.4,99.5 l-0.1,3.0"/><path d="M446.5,99.4 l-0.8,-3.5"/><path d="M447.6,99.3 l-0.6,-3.3"/><path d="M448.7,99.2 l0.0,-3.4"/><path d="M449.8,99.1 l-0.5,-2.2"/><path d="M450.9,99.0 l0.2,-1.8"/><path d="M452.1,98.8 l-0.8,-2.3"/><path d="M453.2,98.7 l-0.1,1.8"/><path d="M454.3,98.6 l-0.6,-1.9"/><path d="M455.4,98.5 l1.0,-2.3"/><path d="M456.5,98.9 l0.3,-1.5"/><path d="M457.7,99.3 l1.7,-3.5"/><path d="M458.9,99.7 l0.5,-2.0"/><path d="M460.0,100.1 l-1.7,2.7"/><path d="M460.9,100.9 l2.1,-2.0"/><path d="M461.9,101.7 l1.2,-1.5"/><path d="M462.8,102.4 l1.5,-2.1"/><path d="M463.8,103.2 l2.1,-2.8"/><path d="M464.7,104.0 l1.7,-1.9"/><path d="M465.5,105.0 l-1.8,1.4"/><path d="M466.2,105.9 l-2.8,2.0"/><path d="M467.0,106.8 l-2.3,2.1"/></g>
<g filter="url(#bl1)" fill="none" stroke="#f01c10" stroke-linecap="round"><path d="M380.00,78.50 C381.47,79.13 386.03,80.77 388.80,82.30 C391.57,83.83 394.02,86.15 396.60,87.70 C399.18,89.25 401.47,90.43 404.30,91.60 C407.13,92.77 410.50,93.80 413.60,94.70 C416.70,95.60 419.80,96.23 422.90,97.00 C426.00,97.77 429.37,98.78 432.20,99.30 C435.03,99.82 437.33,100.10 439.90,100.10 C442.47,100.10 445.02,99.57 447.60,99.30 C450.18,99.03 453.33,98.37 455.40,98.50 C457.47,98.63 458.45,99.18 460.00,100.10 C461.55,101.02 463.40,102.72 464.70,104.00 C466.00,105.28 467.28,107.17 467.80,107.80" stroke-width="3.3"/><path d="M380,77 C386,80 392,84 398,90" stroke-width="5"/><path d="M409,76 C405,80 402,83 399,88" stroke-width="2.2"/><path d="M400,99 C399,104 398,110 396.6,114" stroke-width="1.2" stroke-opacity="0.6"/><path d="M450,78 C447,83 445,86 442.2,90" stroke-width="1.6" stroke-opacity="0.7"/></g>
<path d="M382,80 C385,88 389,94 394,99 L398,96 C395,90 392,85 388,79 Z" fill="#d01410" fill-opacity="0.8" filter="url(#bl2)"/>
</g>
<rect x="381.4" y="121.9" width="98.7" height="40.7" fill="#000"/>
<g clip-path="url(#cR2)">
<g stroke-width="1.7" stroke-linecap="round" filter="url(#bl0)"><path d="M384.2,123.6 l1.6,-2.7" stroke="#2030ff"/><path d="M384.9,124.0 l0.7,-1.1" stroke="#2030ff"/><path d="M385.6,124.4 l-1.4,2.4" stroke="#30d830"/><path d="M386.3,124.8 l-0.7,1.2" stroke="#d82020"/><path d="M387.0,125.2 l1.1,-1.8" stroke="#d82020"/><path d="M388.3,126.1 l-1.0,1.7" stroke="#30d830"/><path d="M389.0,126.5 l0.8,-1.3" stroke="#2030ff"/><path d="M389.7,126.9 l1.0,-1.7" stroke="#30d830"/><path d="M390.4,127.3 l1.5,-1.9" stroke="#30d830"/><path d="M391.7,128.3 l2.2,-2.8" stroke="#30d830"/><path d="M392.3,128.8 l2.1,-2.6" stroke="#30d830"/><path d="M393.0,129.4 l1.5,-1.8" stroke="#d82020"/><path d="M393.6,129.9 l0.9,-1.1" stroke="#30d830"/><path d="M394.2,130.4 l-2.3,2.8" stroke="#2030ff"/><path d="M394.9,130.9 l1.2,-1.5" stroke="#30d830"/><path d="M395.5,131.4 l1.1,-1.4" stroke="#2030ff"/><path d="M396.8,132.5 l2.0,-2.5" stroke="#30d830"/><path d="M397.5,133.0 l0.8,-1.0" stroke="#2030ff"/><path d="M398.9,133.9 l-0.9,1.8" stroke="#2030ff"/><path d="M399.7,134.3 l0.5,-1.1" stroke="#2030ff"/><path d="M401.2,135.0 l0.7,-1.4" stroke="#2030ff"/><path d="M402.0,135.4 l1.4,-2.8" stroke="#30d830"/><path d="M402.8,135.8 l1.2,-2.6" stroke="#d82020"/><path d="M405.9,137.3 l-0.9,2.3" stroke="#30d830"/><path d="M408.2,138.2 l1.2,-3.0" stroke="#30d830"/><path d="M410.5,139.2 l-1.0,2.4" stroke="#2030ff"/><path d="M411.3,139.5 l-0.6,1.4" stroke="#d82020"/><path d="M413.6,140.4 l0.7,-2.1" stroke="#d82020"/><path d="M415.9,141.1 l0.4,-1.3" stroke="#30d830"/><path d="M418.2,141.8 l-0.8,2.4" stroke="#2030ff"/><path d="M419.0,142.1 l0.6,-2.0" stroke="#2030ff"/><path d="M420.5,142.6 l-0.9,3.0" stroke="#2030ff"/><path d="M422.2,143.0 l-0.5,2.7" stroke="#2030ff"/><path d="M423.9,143.3 l-0.5,2.6" stroke="#30d830"/><path d="M425.6,143.6 l-0.5,2.6" stroke="#2030ff"/><path d="M426.5,143.8 l0.3,-1.4" stroke="#2030ff"/><path d="M428.2,144.1 l-0.4,2.0" stroke="#30d830"/><path d="M429.1,144.3 l-0.4,2.1" stroke="#2030ff"/><path d="M430.8,144.7 l0.4,-2.1" stroke="#30d830"/><path d="M431.7,144.8 l-0.7,3.4" stroke="#30d830"/><path d="M432.5,145.0 l-0.7,3.3" stroke="#2030ff"/><path d="M435.1,145.5 l-0.7,3.4" stroke="#2030ff"/><path d="M436.8,145.9 l0.6,-2.1" stroke="#30d830"/><path d="M437.7,146.2 l0.4,-1.4" stroke="#30d830"/><path d="M438.6,146.4 l-0.8,2.9" stroke="#d82020"/><path d="M439.6,146.7 l-0.4,1.5" stroke="#30d830"/><path d="M440.5,146.9 l0.7,-2.3" stroke="#30d830"/><path d="M441.4,147.2 l0.4,2.0" stroke="#d82020"/><path d="M442.2,147.0 l0.7,3.4" stroke="#d82020"/><path d="M443.0,146.9 l0.5,2.3" stroke="#d82020"/><path d="M444.5,146.5 l-0.5,-2.5" stroke="#2030ff"/><path d="M445.3,146.4 l-0.6,-2.9" stroke="#d82020"/><path d="M446.1,146.2 l-0.2,2.4" stroke="#30d830"/><path d="M448.8,146.4 l0.2,-3.6" stroke="#30d830"/><path d="M449.6,146.4 l-0.2,2.7" stroke="#30d830"/><path d="M450.5,146.5 l0.1,-2.2" stroke="#2030ff"/><path d="M451.4,146.5 l-0.2,2.4" stroke="#d82020"/><path d="M452.3,146.6 l-0.3,2.0" stroke="#2030ff"/><path d="M453.2,146.7 l0.4,-3.1" stroke="#30d830"/><path d="M455.0,146.9 l0.2,-1.6" stroke="#d82020"/><path d="M455.8,147.1 l-0.4,3.4" stroke="#2030ff"/><path d="M456.7,147.2 l-0.4,3.0" stroke="#30d830"/><path d="M458.5,147.4 l-1.1,3.2" stroke="#2030ff"/><path d="M459.3,147.7 l-1.1,3.2" stroke="#2030ff"/><path d="M460.0,147.9 l-0.7,2.0" stroke="#30d830"/><path d="M460.8,148.2 l-0.6,1.7" stroke="#30d830"/><path d="M462.3,148.7 l-0.9,2.6" stroke="#30d830"/><path d="M463.1,149.0 l-1.7,2.5" stroke="#2030ff"/><path d="M463.8,149.5 l-1.7,2.5" stroke="#30d830"/><path d="M464.5,149.9 l-1.4,2.0" stroke="#30d830"/><path d="M465.8,150.9 l-1.8,2.5" stroke="#30d830"/><path d="M466.5,151.4 l-1.2,1.7" stroke="#30d830"/><path d="M467.1,151.9 l1.9,-2.7" stroke="#2030ff"/><path d="M467.8,152.3 l-1.8,2.6" stroke="#d82020"/><path d="M383.1,129.1 l-0.6,0.9" stroke="#d82020"/><path d="M389.4,125.4 l-0.2,1.8" stroke="#2030ff"/><path d="M389.4,129.8 l-0.0,-0.7" stroke="#2030ff"/><path d="M390.7,137.2 l0.1,0.1" stroke="#30d830"/><path d="M388.7,141.0 l-0.6,0.7" stroke="#30d830"/><path d="M391.2,124.3 l0.7,0.7" stroke="#30d830"/><path d="M387.8,131.1 l0.5,1.1" stroke="#d82020"/><path d="M388.8,140.1 l-0.7,0.7" stroke="#30d830"/><path d="M389.5,133.0 l0.8,1.0" stroke="#2030ff"/><path d="M390.2,136.0 l-0.7,0.8" stroke="#2030ff"/><path d="M389.0,135.2 l0.4,1.1" stroke="#2030ff"/><path d="M388.0,133.2 l-0.6,-1.1" stroke="#d82020"/><path d="M382.9,136.5 l-0.3,0.8" stroke="#30d830"/><path d="M382.7,139.8 l-0.6,-0.2" stroke="#2030ff"/><path d="M389.6,131.9 l-0.9,-0.2" stroke="#d82020"/><path d="M387.5,139.1 l0.1,-0.1" stroke="#30d830"/><path d="M386.8,128.9 l0.9,0.1" stroke="#2030ff"/><path d="M384.3,134.1 l-0.4,1.9" stroke="#30d830"/><path d="M387.8,137.3 l0.6,-1.9" stroke="#30d830"/><path d="M387.0,131.5 l0.9,-0.9" stroke="#30d830"/><path d="M382.9,125.2 l0.0,0.4" stroke="#2030ff"/><path d="M384.3,140.4 l0.6,1.8" stroke="#30d830"/><path d="M385.3,142.7 l0.3,0.3" stroke="#30d830"/><path d="M386.3,142.4 l0.2,-1.2" stroke="#d82020"/><path d="M388.2,125.2 l-0.4,-1.2" stroke="#30d830"/><path d="M389.4,133.3 l0.6,1.2" stroke="#2030ff"/><path d="M389.4,138.5 l0.1,0.8" stroke="#30d830"/><path d="M391.7,138.0 l0.8,0.9" stroke="#30d830"/><path d="M389.2,124.3 l-0.2,1.3" stroke="#30d830"/><path d="M388.4,137.9 l-0.5,-0.6" stroke="#d82020"/></g>
<g fill="none" stroke="#c433d4" stroke-linecap="round" filter="url(#bl0)"><path d="M381.00,122.50 C381.53,122.68 382.63,122.80 384.20,123.60 C385.77,124.40 388.08,125.65 390.40,127.30 C392.72,128.95 395.52,131.83 398.10,133.50 C400.68,135.17 403.32,136.15 405.90,137.30 C408.48,138.45 411.03,139.48 413.60,140.40 C416.17,141.32 418.72,142.15 421.30,142.80 C423.88,143.45 426.52,143.78 429.10,144.30 C431.68,144.82 434.75,145.42 436.80,145.90 C438.85,146.38 439.85,147.15 441.40,147.20 C442.95,147.25 444.28,146.30 446.10,146.20 C447.92,146.10 450.23,146.40 452.30,146.60 C454.37,146.80 456.70,147.00 458.50,147.40 C460.30,147.80 461.43,148.10 463.10,149.00 C464.77,149.90 467.60,152.17 468.50,152.80" stroke-width="3.1"/><path d="M409.7,121.5 C406,124 402,128 399.7,131.2 C397.5,134.5 396.5,138 396.3,142.8" stroke-width="2.4"/><path d="M384,121.5 C384.5,126 385,130 385.6,134" stroke-width="1.8"/></g>
<path d="M381.00,122.50 C381.53,122.68 382.63,122.80 384.20,123.60 C385.77,124.40 388.08,125.65 390.40,127.30 C392.72,128.95 395.52,131.83 398.10,133.50 C400.68,135.17 403.32,136.15 405.90,137.30 C408.48,138.45 411.03,139.48 413.60,140.40 C416.17,141.32 418.72,142.15 421.30,142.80 C423.88,143.45 426.52,143.78 429.10,144.30 C431.68,144.82 434.75,145.42 436.80,145.90 C438.85,146.38 439.85,147.15 441.40,147.20 C442.95,147.25 444.28,146.30 446.10,146.20 C447.92,146.10 450.23,146.40 452.30,146.60 C454.37,146.80 456.70,147.00 458.50,147.40 C460.30,147.80 461.43,148.10 463.10,149.00 C464.77,149.90 467.60,152.17 468.50,152.80" fill="none" stroke="#e070f0" stroke-width="0.8" stroke-opacity="0.6"/>
</g>
</svg>
</body></html>
